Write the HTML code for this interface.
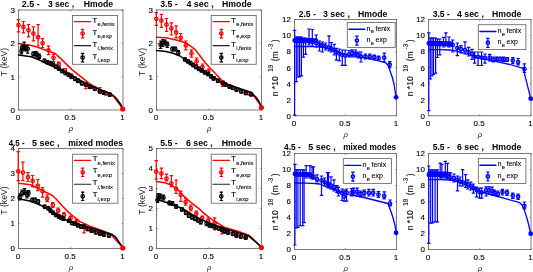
<!DOCTYPE html>
<html><head><meta charset="utf-8"><style>
html,body{margin:0;padding:0;background:#fff;}
svg{display:block;will-change:transform;}
text{font-family:"Liberation Sans", sans-serif;}
</style></head><body>
<svg xmlns="http://www.w3.org/2000/svg" width="533" height="272" viewBox="0 0 533 272">
<rect width="533" height="272" fill="#fff"/>
<rect x="18.5" y="10" width="104.5" height="100" fill="none" stroke="#666" stroke-width="0.85"/>
<line x1="18.5" y1="110" x2="19.7" y2="110" stroke="#666" stroke-width="0.85"/>
<line x1="123" y1="110" x2="121.8" y2="110" stroke="#666" stroke-width="0.85"/>
<text x="14.9" y="112.9" font-size="8" text-anchor="end" font-weight="normal" font-style="normal" fill="#000" stroke="#000" stroke-width="0.12">0</text>
<line x1="18.5" y1="76.67" x2="19.7" y2="76.67" stroke="#666" stroke-width="0.85"/>
<line x1="123" y1="76.67" x2="121.8" y2="76.67" stroke="#666" stroke-width="0.85"/>
<text x="14.9" y="79.57" font-size="8" text-anchor="end" font-weight="normal" font-style="normal" fill="#000" stroke="#000" stroke-width="0.12">1</text>
<line x1="18.5" y1="43.33" x2="19.7" y2="43.33" stroke="#666" stroke-width="0.85"/>
<line x1="123" y1="43.33" x2="121.8" y2="43.33" stroke="#666" stroke-width="0.85"/>
<text x="14.9" y="46.23" font-size="8" text-anchor="end" font-weight="normal" font-style="normal" fill="#000" stroke="#000" stroke-width="0.12">2</text>
<line x1="18.5" y1="10" x2="19.7" y2="10" stroke="#666" stroke-width="0.85"/>
<line x1="123" y1="10" x2="121.8" y2="10" stroke="#666" stroke-width="0.85"/>
<text x="14.9" y="12.9" font-size="8" text-anchor="end" font-weight="normal" font-style="normal" fill="#000" stroke="#000" stroke-width="0.12">3</text>
<line x1="18.5" y1="110" x2="18.5" y2="108.8" stroke="#666" stroke-width="0.85"/>
<line x1="18.5" y1="10" x2="18.5" y2="11.2" stroke="#666" stroke-width="0.85"/>
<text x="17.9" y="120.4" font-size="8" text-anchor="middle" font-weight="normal" font-style="normal" fill="#000" stroke="#000" stroke-width="0.12">0</text>
<line x1="70.75" y1="110" x2="70.75" y2="108.8" stroke="#666" stroke-width="0.85"/>
<line x1="70.75" y1="10" x2="70.75" y2="11.2" stroke="#666" stroke-width="0.85"/>
<text x="70.15" y="120.4" font-size="8" text-anchor="middle" font-weight="normal" font-style="normal" fill="#000" stroke="#000" stroke-width="0.12">0.5</text>
<line x1="123" y1="110" x2="123" y2="108.8" stroke="#666" stroke-width="0.85"/>
<line x1="123" y1="10" x2="123" y2="11.2" stroke="#666" stroke-width="0.85"/>
<text x="122.4" y="120.4" font-size="8" text-anchor="middle" font-weight="normal" font-style="normal" fill="#000" stroke="#000" stroke-width="0.12">1</text>
<text x="70.95" y="131" font-size="7.8" text-anchor="middle" font-weight="normal" font-style="italic" fill="#222" font-family="Liberation Serif, serif">&#961;</text>
<polyline points="18.5,43.4 28.6,44.9 35.7,46.6 44.5,49.7 50,51.7 55.5,53.7 61,58.9 66.5,64.4 72,69.6 79.9,75.9 89.8,83.8 99.8,89.4 110.7,94.1 114.5,97.5 117.6,101.7 120.5,105.5 122.8,108.8" fill="none" stroke="#f00" stroke-width="1.5" stroke-linejoin="round" stroke-linecap="round"/>
<path d="M18.5 19.6V31.8M16.8 19.6H20.2M16.8 31.8H20.2" stroke="#f00" stroke-width="1.2" fill="none"/>
<path d="M23.4 21.5V32.8M21.7 21.5H25.1M21.7 32.8H25.1" stroke="#f00" stroke-width="1.2" fill="none"/>
<path d="M28.5 24.7V36.8M26.8 24.7H30.2M26.8 36.8H30.2" stroke="#f00" stroke-width="1.2" fill="none"/>
<path d="M33.4 26.9V40.9M31.7 26.9H35.1M31.7 40.9H35.1" stroke="#f00" stroke-width="1.2" fill="none"/>
<path d="M38.1 24.7V46M36.4 24.7H39.8M36.4 46H39.8" stroke="#f00" stroke-width="1.2" fill="none"/>
<path d="M42.6 38.7V47.5M40.9 38.7H44.3M40.9 47.5H44.3" stroke="#f00" stroke-width="1.2" fill="none"/>
<path d="M48.5 46.2V54.7M46.8 46.2H50.2M46.8 54.7H50.2" stroke="#f00" stroke-width="1.2" fill="none"/>
<path d="M53.5 54.5V61.6M51.8 54.5H55.2M51.8 61.6H55.2" stroke="#f00" stroke-width="1.2" fill="none"/>
<path d="M58.8 62.2V66.6M57.1 62.2H60.5M57.1 66.6H60.5" stroke="#f00" stroke-width="1.2" fill="none"/>
<path d="M64.9 68.5V72M63.2 68.5H66.6M63.2 72H66.6" stroke="#f00" stroke-width="1.2" fill="none"/>
<path d="M70.9 73.8V78M69.2 73.8H72.6M69.2 78H72.6" stroke="#f00" stroke-width="1.2" fill="none"/>
<path d="M77.9 79V82.5M76.2 79H79.6M76.2 82.5H79.6" stroke="#f00" stroke-width="1.2" fill="none"/>
<path d="M85.9 83V88.6M84.2 83H87.6M84.2 88.6H87.6" stroke="#f00" stroke-width="1.2" fill="none"/>
<path d="M91 85.5V88.5M89.3 85.5H92.7M89.3 88.5H92.7" stroke="#f00" stroke-width="1.2" fill="none"/>
<path d="M99.8 87.6V93M98.1 87.6H101.5M98.1 93H101.5" stroke="#f00" stroke-width="1.2" fill="none"/>
<path d="M106 92V95M104.3 92H107.7M104.3 95H107.7" stroke="#f00" stroke-width="1.2" fill="none"/>
<circle cx="18.5" cy="25.1" r="1.7" fill="none" stroke="#f00" stroke-width="1.3"/>
<circle cx="23.4" cy="26.9" r="1.7" fill="none" stroke="#f00" stroke-width="1.3"/>
<circle cx="28.5" cy="30.3" r="1.7" fill="none" stroke="#f00" stroke-width="1.3"/>
<circle cx="33.4" cy="33.5" r="1.7" fill="none" stroke="#f00" stroke-width="1.3"/>
<circle cx="38.1" cy="37.2" r="1.7" fill="none" stroke="#f00" stroke-width="1.3"/>
<circle cx="42.6" cy="43.1" r="1.7" fill="none" stroke="#f00" stroke-width="1.3"/>
<circle cx="48.5" cy="50.3" r="1.7" fill="none" stroke="#f00" stroke-width="1.3"/>
<circle cx="53.5" cy="57.8" r="1.7" fill="none" stroke="#f00" stroke-width="1.3"/>
<circle cx="58.8" cy="64.2" r="1.7" fill="none" stroke="#f00" stroke-width="1.3"/>
<circle cx="64.9" cy="70" r="1.7" fill="none" stroke="#f00" stroke-width="1.3"/>
<circle cx="70.9" cy="75.6" r="1.7" fill="none" stroke="#f00" stroke-width="1.3"/>
<circle cx="77.9" cy="80.8" r="1.7" fill="none" stroke="#f00" stroke-width="1.3"/>
<circle cx="85.9" cy="84.8" r="1.7" fill="none" stroke="#f00" stroke-width="1.3"/>
<circle cx="91" cy="87" r="1.7" fill="none" stroke="#f00" stroke-width="1.3"/>
<circle cx="99.8" cy="91.2" r="1.7" fill="none" stroke="#f00" stroke-width="1.3"/>
<circle cx="106" cy="93.5" r="1.7" fill="none" stroke="#f00" stroke-width="1.3"/>
<polyline points="18.5,55 31.2,56.8 40.1,60.3 46,63.4 50,65 60,69.5 70,74.9 80,80.2 89.8,85.4 100,89.6 110.7,93.7 114.5,96.5 118,100.5 121,105 122.8,108.8" fill="none" stroke="#000" stroke-width="1.5" stroke-linejoin="round" stroke-linecap="round"/>
<path d="M21.4 48V53.9M19.7 48H23.1M19.7 53.9H23.1" stroke="#000" stroke-width="1.2" fill="none"/>
<path d="M22.2 45V50M20.5 45H23.9M20.5 50H23.9" stroke="#000" stroke-width="1.2" fill="none"/>
<path d="M24.2 42.2V49M22.5 42.2H25.9M22.5 49H25.9" stroke="#000" stroke-width="1.2" fill="none"/>
<path d="M25.7 46V51M24 46H27.4M24 51H27.4" stroke="#000" stroke-width="1.2" fill="none"/>
<path d="M27.7 45.5V53.2M26 45.5H29.4M26 53.2H29.4" stroke="#000" stroke-width="1.2" fill="none"/>
<path d="M33.4 52V56M31.7 52H35.1M31.7 56H35.1" stroke="#000" stroke-width="1.2" fill="none"/>
<path d="M35.7 51.5V55M34 51.5H37.4M34 55H37.4" stroke="#000" stroke-width="1.2" fill="none"/>
<path d="M37 53V57M35.3 53H38.7M35.3 57H38.7" stroke="#000" stroke-width="1.2" fill="none"/>
<path d="M39.2 54V58.5M37.5 54H40.9M37.5 58.5H40.9" stroke="#000" stroke-width="1.2" fill="none"/>
<path d="M44.5 59.2V62.4M42.8 59.2H46.2M42.8 62.4H46.2" stroke="#000" stroke-width="1.2" fill="none"/>
<path d="M47.5 60.7V63.9M45.8 60.7H49.2M45.8 63.9H49.2" stroke="#000" stroke-width="1.2" fill="none"/>
<path d="M50.6 61.6V64.8M48.9 61.6H52.3M48.9 64.8H52.3" stroke="#000" stroke-width="1.2" fill="none"/>
<path d="M53.3 63.2V66.4M51.6 63.2H55M51.6 66.4H55" stroke="#000" stroke-width="1.2" fill="none"/>
<path d="M56.1 65.2V68.4M54.4 65.2H57.8M54.4 68.4H57.8" stroke="#000" stroke-width="1.2" fill="none"/>
<path d="M58.8 67V70.2M57.1 67H60.5M57.1 70.2H60.5" stroke="#000" stroke-width="1.2" fill="none"/>
<path d="M62.1 69.4V72.6M60.4 69.4H63.8M60.4 72.6H63.8" stroke="#000" stroke-width="1.2" fill="none"/>
<path d="M65.4 71.4V74.6M63.7 71.4H67.1M63.7 74.6H67.1" stroke="#000" stroke-width="1.2" fill="none"/>
<path d="M68.5 73.2V76.4M66.8 73.2H70.2M66.8 76.4H70.2" stroke="#000" stroke-width="1.2" fill="none"/>
<path d="M71.6 75.3V78.5M69.9 75.3H73.3M69.9 78.5H73.3" stroke="#000" stroke-width="1.2" fill="none"/>
<path d="M75 77.2V80.4M73.3 77.2H76.7M73.3 80.4H76.7" stroke="#000" stroke-width="1.2" fill="none"/>
<path d="M77.9 79.2V82.4M76.2 79.2H79.6M76.2 82.4H79.6" stroke="#000" stroke-width="1.2" fill="none"/>
<path d="M81.9 81.8V85M80.2 81.8H83.6M80.2 85H83.6" stroke="#000" stroke-width="1.2" fill="none"/>
<path d="M85.9 83.2V86.4M84.2 83.2H87.6M84.2 86.4H87.6" stroke="#000" stroke-width="1.2" fill="none"/>
<path d="M89.8 85.2V88.4M88.1 85.2H91.5M88.1 88.4H91.5" stroke="#000" stroke-width="1.2" fill="none"/>
<path d="M94.8 87.2V90.4M93.1 87.2H96.5M93.1 90.4H96.5" stroke="#000" stroke-width="1.2" fill="none"/>
<path d="M99.8 89.6V92.8M98.1 89.6H101.5M98.1 92.8H101.5" stroke="#000" stroke-width="1.2" fill="none"/>
<path d="M103.7 91.1V94.3M102 91.1H105.4M102 94.3H105.4" stroke="#000" stroke-width="1.2" fill="none"/>
<path d="M109.7 93.1V96.3M108 93.1H111.4M108 96.3H111.4" stroke="#000" stroke-width="1.2" fill="none"/>
<circle cx="21.4" cy="51" r="1.7" fill="none" stroke="#000" stroke-width="1.3"/>
<circle cx="22.2" cy="47.6" r="1.7" fill="none" stroke="#000" stroke-width="1.3"/>
<circle cx="24.2" cy="46.6" r="1.7" fill="none" stroke="#000" stroke-width="1.3"/>
<circle cx="25.7" cy="48.8" r="1.7" fill="none" stroke="#000" stroke-width="1.3"/>
<circle cx="27.7" cy="48.8" r="1.7" fill="none" stroke="#000" stroke-width="1.3"/>
<circle cx="33.4" cy="53.9" r="1.7" fill="none" stroke="#000" stroke-width="1.3"/>
<circle cx="35.7" cy="53.2" r="1.7" fill="none" stroke="#000" stroke-width="1.3"/>
<circle cx="37" cy="55" r="1.7" fill="none" stroke="#000" stroke-width="1.3"/>
<circle cx="39.2" cy="56.3" r="1.7" fill="none" stroke="#000" stroke-width="1.3"/>
<circle cx="44.5" cy="60.8" r="1.7" fill="none" stroke="#000" stroke-width="1.3"/>
<circle cx="47.5" cy="62.3" r="1.7" fill="none" stroke="#000" stroke-width="1.3"/>
<circle cx="50.6" cy="63.2" r="1.7" fill="none" stroke="#000" stroke-width="1.3"/>
<circle cx="53.3" cy="64.8" r="1.7" fill="none" stroke="#000" stroke-width="1.3"/>
<circle cx="56.1" cy="66.8" r="1.7" fill="none" stroke="#000" stroke-width="1.3"/>
<circle cx="58.8" cy="68.6" r="1.7" fill="none" stroke="#000" stroke-width="1.3"/>
<circle cx="62.1" cy="71" r="1.7" fill="none" stroke="#000" stroke-width="1.3"/>
<circle cx="65.4" cy="73" r="1.7" fill="none" stroke="#000" stroke-width="1.3"/>
<circle cx="68.5" cy="74.8" r="1.7" fill="none" stroke="#000" stroke-width="1.3"/>
<circle cx="71.6" cy="76.9" r="1.7" fill="none" stroke="#000" stroke-width="1.3"/>
<circle cx="75" cy="78.8" r="1.7" fill="none" stroke="#000" stroke-width="1.3"/>
<circle cx="77.9" cy="80.8" r="1.7" fill="none" stroke="#000" stroke-width="1.3"/>
<circle cx="81.9" cy="83.4" r="1.7" fill="none" stroke="#000" stroke-width="1.3"/>
<circle cx="85.9" cy="84.8" r="1.7" fill="none" stroke="#000" stroke-width="1.3"/>
<circle cx="89.8" cy="86.8" r="1.7" fill="none" stroke="#000" stroke-width="1.3"/>
<circle cx="94.8" cy="88.8" r="1.7" fill="none" stroke="#000" stroke-width="1.3"/>
<circle cx="99.8" cy="91.2" r="1.7" fill="none" stroke="#000" stroke-width="1.3"/>
<circle cx="103.7" cy="92.7" r="1.7" fill="none" stroke="#000" stroke-width="1.3"/>
<circle cx="109.7" cy="94.7" r="1.7" fill="none" stroke="#000" stroke-width="1.3"/>
<circle cx="122.7" cy="109.1" r="2.6" fill="#f00"/>
<rect x="72.5" y="15.5" width="45" height="48.8" fill="#fff" stroke="#666" stroke-width="0.85"/>
<polyline points="74.3,21.6 90.7,21.6" fill="none" stroke="#f00" stroke-width="1.2" stroke-linejoin="round" stroke-linecap="round"/>
<path d="M82.6 29.4V37.8M80.9 29.4H84.3M80.9 37.8H84.3" stroke="#f00" stroke-width="1.2" fill="none"/>
<circle cx="82.6" cy="33.6" r="1.7" fill="none" stroke="#f00" stroke-width="1.3"/>
<polyline points="74.3,45.6 90.7,45.6" fill="none" stroke="#222" stroke-width="1.1" stroke-linejoin="round" stroke-linecap="round"/>
<path d="M82.6 53.4V61.8M80.9 53.4H84.3M80.9 61.8H84.3" stroke="#000" stroke-width="1.2" fill="none"/>
<circle cx="82.6" cy="57.6" r="1.7" fill="none" stroke="#000" stroke-width="1.3"/>
<text x="92.6" y="22.7" font-size="7.6" fill="#000" stroke="#000" stroke-width="0.15">T<tspan font-size="5.9" dy="3.5" dx="0.2" stroke-width="0.1">e,fenix</tspan></text>
<text x="92.6" y="34.7" font-size="7.6" fill="#000" stroke="#000" stroke-width="0.15">T<tspan font-size="5.9" dy="3.5" dx="0.2" stroke-width="0.1">e,exp</tspan></text>
<text x="92.6" y="46.7" font-size="7.6" fill="#000" stroke="#000" stroke-width="0.15">T<tspan font-size="5.9" dy="3.5" dx="0.2" stroke-width="0.1">i,fenix</tspan></text>
<text x="92.6" y="58.7" font-size="7.6" fill="#000" stroke="#000" stroke-width="0.15">T<tspan font-size="5.9" dy="3.5" dx="0.2" stroke-width="0.1">i,exp</tspan></text>
<rect x="156.5" y="10" width="105" height="100" fill="none" stroke="#666" stroke-width="0.85"/>
<line x1="156.5" y1="110" x2="157.7" y2="110" stroke="#666" stroke-width="0.85"/>
<line x1="261.5" y1="110" x2="260.3" y2="110" stroke="#666" stroke-width="0.85"/>
<text x="152.9" y="112.9" font-size="8" text-anchor="end" font-weight="normal" font-style="normal" fill="#000" stroke="#000" stroke-width="0.12">0</text>
<line x1="156.5" y1="76.67" x2="157.7" y2="76.67" stroke="#666" stroke-width="0.85"/>
<line x1="261.5" y1="76.67" x2="260.3" y2="76.67" stroke="#666" stroke-width="0.85"/>
<text x="152.9" y="79.57" font-size="8" text-anchor="end" font-weight="normal" font-style="normal" fill="#000" stroke="#000" stroke-width="0.12">1</text>
<line x1="156.5" y1="43.33" x2="157.7" y2="43.33" stroke="#666" stroke-width="0.85"/>
<line x1="261.5" y1="43.33" x2="260.3" y2="43.33" stroke="#666" stroke-width="0.85"/>
<text x="152.9" y="46.23" font-size="8" text-anchor="end" font-weight="normal" font-style="normal" fill="#000" stroke="#000" stroke-width="0.12">2</text>
<line x1="156.5" y1="10" x2="157.7" y2="10" stroke="#666" stroke-width="0.85"/>
<line x1="261.5" y1="10" x2="260.3" y2="10" stroke="#666" stroke-width="0.85"/>
<text x="152.9" y="12.9" font-size="8" text-anchor="end" font-weight="normal" font-style="normal" fill="#000" stroke="#000" stroke-width="0.12">3</text>
<line x1="156.5" y1="110" x2="156.5" y2="108.8" stroke="#666" stroke-width="0.85"/>
<line x1="156.5" y1="10" x2="156.5" y2="11.2" stroke="#666" stroke-width="0.85"/>
<text x="155.9" y="120.4" font-size="8" text-anchor="middle" font-weight="normal" font-style="normal" fill="#000" stroke="#000" stroke-width="0.12">0</text>
<line x1="209" y1="110" x2="209" y2="108.8" stroke="#666" stroke-width="0.85"/>
<line x1="209" y1="10" x2="209" y2="11.2" stroke="#666" stroke-width="0.85"/>
<text x="208.4" y="120.4" font-size="8" text-anchor="middle" font-weight="normal" font-style="normal" fill="#000" stroke="#000" stroke-width="0.12">0.5</text>
<line x1="261.5" y1="110" x2="261.5" y2="108.8" stroke="#666" stroke-width="0.85"/>
<line x1="261.5" y1="10" x2="261.5" y2="11.2" stroke="#666" stroke-width="0.85"/>
<text x="260.9" y="120.4" font-size="8" text-anchor="middle" font-weight="normal" font-style="normal" fill="#000" stroke="#000" stroke-width="0.12">1</text>
<text x="209.2" y="131" font-size="7.8" text-anchor="middle" font-weight="normal" font-style="italic" fill="#222" font-family="Liberation Serif, serif">&#961;</text>
<polyline points="156.5,37.3 166,37.8 174,39.6 180,41 186,43 190,45.6 194.4,48.8 199,54.5 204.7,62 209.5,67.5 213.5,71.5 217.3,75.5 222,80.5 228,84.7 238.9,88.5 251.2,93.1 255.8,98.5 259,103 261.4,107.6" fill="none" stroke="#f00" stroke-width="1.5" stroke-linejoin="round" stroke-linecap="round"/>
<path d="M156.3 12.6V25.4M154.6 12.6H158M154.6 25.4H158" stroke="#f00" stroke-width="1.2" fill="none"/>
<path d="M161.4 14.4V27.4M159.7 14.4H163.1M159.7 27.4H163.1" stroke="#f00" stroke-width="1.2" fill="none"/>
<path d="M166.5 18.5V31.3M164.8 18.5H168.2M164.8 31.3H168.2" stroke="#f00" stroke-width="1.2" fill="none"/>
<path d="M171.4 22.9V35M169.7 22.9H173.1M169.7 35H173.1" stroke="#f00" stroke-width="1.2" fill="none"/>
<path d="M176.1 25.9V37.9M174.4 25.9H177.8M174.4 37.9H177.8" stroke="#f00" stroke-width="1.2" fill="none"/>
<path d="M180.7 33.5V41M179 33.5H182.4M179 41H182.4" stroke="#f00" stroke-width="1.2" fill="none"/>
<path d="M185.8 41V49.9M184.1 41H187.5M184.1 49.9H187.5" stroke="#f00" stroke-width="1.2" fill="none"/>
<path d="M191.5 49.9V57.2M189.8 49.9H193.2M189.8 57.2H193.2" stroke="#f00" stroke-width="1.2" fill="none"/>
<path d="M196.6 58V64.5M194.9 58H198.3M194.9 64.5H198.3" stroke="#f00" stroke-width="1.2" fill="none"/>
<path d="M202.5 64V70M200.8 64H204.2M200.8 70H204.2" stroke="#f00" stroke-width="1.2" fill="none"/>
<path d="M208.4 69V74M206.7 69H210.1M206.7 74H210.1" stroke="#f00" stroke-width="1.2" fill="none"/>
<path d="M213.6 76.5V80M211.9 76.5H215.3M211.9 80H215.3" stroke="#f00" stroke-width="1.2" fill="none"/>
<path d="M222.7 80.5V86.4M221 80.5H224.4M221 86.4H224.4" stroke="#f00" stroke-width="1.2" fill="none"/>
<path d="M229.6 85V88.5M227.9 85H231.3M227.9 88.5H231.3" stroke="#f00" stroke-width="1.2" fill="none"/>
<path d="M236.5 88V91M234.8 88H238.2M234.8 91H238.2" stroke="#f00" stroke-width="1.2" fill="none"/>
<path d="M245.8 91V94.5M244.1 91H247.5M244.1 94.5H247.5" stroke="#f00" stroke-width="1.2" fill="none"/>
<path d="M249.5 92V95M247.8 92H251.2M247.8 95H251.2" stroke="#f00" stroke-width="1.2" fill="none"/>
<circle cx="156.3" cy="18.8" r="1.7" fill="none" stroke="#f00" stroke-width="1.3"/>
<circle cx="161.4" cy="20.6" r="1.7" fill="none" stroke="#f00" stroke-width="1.3"/>
<circle cx="166.5" cy="24.7" r="1.7" fill="none" stroke="#f00" stroke-width="1.3"/>
<circle cx="171.4" cy="28.4" r="1.7" fill="none" stroke="#f00" stroke-width="1.3"/>
<circle cx="176.1" cy="32.4" r="1.7" fill="none" stroke="#f00" stroke-width="1.3"/>
<circle cx="180.7" cy="37.8" r="1.7" fill="none" stroke="#f00" stroke-width="1.3"/>
<circle cx="185.8" cy="45.4" r="1.7" fill="none" stroke="#f00" stroke-width="1.3"/>
<circle cx="191.5" cy="53.4" r="1.7" fill="none" stroke="#f00" stroke-width="1.3"/>
<circle cx="196.6" cy="61.3" r="1.7" fill="none" stroke="#f00" stroke-width="1.3"/>
<circle cx="202.5" cy="67.2" r="1.7" fill="none" stroke="#f00" stroke-width="1.3"/>
<circle cx="208.4" cy="71.6" r="1.7" fill="none" stroke="#f00" stroke-width="1.3"/>
<circle cx="213.6" cy="78.3" r="1.7" fill="none" stroke="#f00" stroke-width="1.3"/>
<circle cx="222.7" cy="83.1" r="1.7" fill="none" stroke="#f00" stroke-width="1.3"/>
<circle cx="229.6" cy="86.7" r="1.7" fill="none" stroke="#f00" stroke-width="1.3"/>
<circle cx="236.5" cy="89.6" r="1.7" fill="none" stroke="#f00" stroke-width="1.3"/>
<circle cx="245.8" cy="93" r="1.7" fill="none" stroke="#f00" stroke-width="1.3"/>
<circle cx="249.5" cy="93.5" r="1.7" fill="none" stroke="#f00" stroke-width="1.3"/>
<polyline points="156.5,50.6 166,51.5 174,53.5 180,56 186,60 190,64 195,67.5 200,70 208,73.9 215,78 223.4,83.1 238.9,88.2 251.2,92.4 255.8,97 259,101.5 261.4,106.8" fill="none" stroke="#000" stroke-width="1.5" stroke-linejoin="round" stroke-linecap="round"/>
<path d="M160.6 41V48.4M158.9 41H162.3M158.9 48.4H162.3" stroke="#000" stroke-width="1.2" fill="none"/>
<path d="M162.8 39.6V46.5M161.1 39.6H164.5M161.1 46.5H164.5" stroke="#000" stroke-width="1.2" fill="none"/>
<path d="M165 40V45M163.3 40H166.7M163.3 45H166.7" stroke="#000" stroke-width="1.2" fill="none"/>
<path d="M167.2 42V47.5M165.5 42H168.9M165.5 47.5H168.9" stroke="#000" stroke-width="1.2" fill="none"/>
<path d="M172.4 47V51M170.7 47H174.1M170.7 51H174.1" stroke="#000" stroke-width="1.2" fill="none"/>
<path d="M175.3 47V51M173.6 47H177M173.6 51H177" stroke="#000" stroke-width="1.2" fill="none"/>
<path d="M178.3 50.5V55M176.6 50.5H180M176.6 55H180" stroke="#000" stroke-width="1.2" fill="none"/>
<path d="M184.9 57.8V61M183.2 57.8H186.6M183.2 61H186.6" stroke="#000" stroke-width="1.2" fill="none"/>
<path d="M187.8 59.6V62.8M186.1 59.6H189.5M186.1 62.8H189.5" stroke="#000" stroke-width="1.2" fill="none"/>
<path d="M190.5 61.4V64.6M188.8 61.4H192.2M188.8 64.6H192.2" stroke="#000" stroke-width="1.2" fill="none"/>
<path d="M193.2 63.4V66.6M191.5 63.4H194.9M191.5 66.6H194.9" stroke="#000" stroke-width="1.2" fill="none"/>
<path d="M196 65.4V68.6M194.3 65.4H197.7M194.3 68.6H197.7" stroke="#000" stroke-width="1.2" fill="none"/>
<path d="M198.8 67.2V70.4M197.1 67.2H200.5M197.1 70.4H200.5" stroke="#000" stroke-width="1.2" fill="none"/>
<path d="M201.5 68.8V72M199.8 68.8H203.2M199.8 72H203.2" stroke="#000" stroke-width="1.2" fill="none"/>
<path d="M204.7 70.8V74M203 70.8H206.4M203 74H206.4" stroke="#000" stroke-width="1.2" fill="none"/>
<path d="M208 72.4V75.6M206.3 72.4H209.7M206.3 75.6H209.7" stroke="#000" stroke-width="1.2" fill="none"/>
<path d="M211 74.7V77.9M209.3 74.7H212.7M209.3 77.9H212.7" stroke="#000" stroke-width="1.2" fill="none"/>
<path d="M213.6 76.7V79.9M211.9 76.7H215.3M211.9 79.9H215.3" stroke="#000" stroke-width="1.2" fill="none"/>
<path d="M218 79.2V82.4M216.3 79.2H219.7M216.3 82.4H219.7" stroke="#000" stroke-width="1.2" fill="none"/>
<path d="M222.7 81.5V84.7M221 81.5H224.4M221 84.7H224.4" stroke="#000" stroke-width="1.2" fill="none"/>
<path d="M225.5 83.1V86.3M223.8 83.1H227.2M223.8 86.3H227.2" stroke="#000" stroke-width="1.2" fill="none"/>
<path d="M229.6 85.1V88.3M227.9 85.1H231.3M227.9 88.3H231.3" stroke="#000" stroke-width="1.2" fill="none"/>
<path d="M232.7 86.3V89.5M231 86.3H234.4M231 89.5H234.4" stroke="#000" stroke-width="1.2" fill="none"/>
<path d="M236.5 88V91.2M234.8 88H238.2M234.8 91.2H238.2" stroke="#000" stroke-width="1.2" fill="none"/>
<path d="M241.2 89.8V93M239.5 89.8H242.9M239.5 93H242.9" stroke="#000" stroke-width="1.2" fill="none"/>
<path d="M245.8 91.4V94.6M244.1 91.4H247.5M244.1 94.6H247.5" stroke="#000" stroke-width="1.2" fill="none"/>
<path d="M251.2 92.8V96M249.5 92.8H252.9M249.5 96H252.9" stroke="#000" stroke-width="1.2" fill="none"/>
<circle cx="160.6" cy="44.7" r="1.7" fill="none" stroke="#000" stroke-width="1.3"/>
<circle cx="162.8" cy="43.2" r="1.7" fill="none" stroke="#000" stroke-width="1.3"/>
<circle cx="165" cy="42.5" r="1.7" fill="none" stroke="#000" stroke-width="1.3"/>
<circle cx="167.2" cy="44.4" r="1.7" fill="none" stroke="#000" stroke-width="1.3"/>
<circle cx="172.4" cy="49.1" r="1.7" fill="none" stroke="#000" stroke-width="1.3"/>
<circle cx="175.3" cy="49.1" r="1.7" fill="none" stroke="#000" stroke-width="1.3"/>
<circle cx="178.3" cy="52.8" r="1.7" fill="none" stroke="#000" stroke-width="1.3"/>
<circle cx="184.9" cy="59.4" r="1.7" fill="none" stroke="#000" stroke-width="1.3"/>
<circle cx="187.8" cy="61.2" r="1.7" fill="none" stroke="#000" stroke-width="1.3"/>
<circle cx="190.5" cy="63" r="1.7" fill="none" stroke="#000" stroke-width="1.3"/>
<circle cx="193.2" cy="65" r="1.7" fill="none" stroke="#000" stroke-width="1.3"/>
<circle cx="196" cy="67" r="1.7" fill="none" stroke="#000" stroke-width="1.3"/>
<circle cx="198.8" cy="68.8" r="1.7" fill="none" stroke="#000" stroke-width="1.3"/>
<circle cx="201.5" cy="70.4" r="1.7" fill="none" stroke="#000" stroke-width="1.3"/>
<circle cx="204.7" cy="72.4" r="1.7" fill="none" stroke="#000" stroke-width="1.3"/>
<circle cx="208" cy="74" r="1.7" fill="none" stroke="#000" stroke-width="1.3"/>
<circle cx="211" cy="76.3" r="1.7" fill="none" stroke="#000" stroke-width="1.3"/>
<circle cx="213.6" cy="78.3" r="1.7" fill="none" stroke="#000" stroke-width="1.3"/>
<circle cx="218" cy="80.8" r="1.7" fill="none" stroke="#000" stroke-width="1.3"/>
<circle cx="222.7" cy="83.1" r="1.7" fill="none" stroke="#000" stroke-width="1.3"/>
<circle cx="225.5" cy="84.7" r="1.7" fill="none" stroke="#000" stroke-width="1.3"/>
<circle cx="229.6" cy="86.7" r="1.7" fill="none" stroke="#000" stroke-width="1.3"/>
<circle cx="232.7" cy="87.9" r="1.7" fill="none" stroke="#000" stroke-width="1.3"/>
<circle cx="236.5" cy="89.6" r="1.7" fill="none" stroke="#000" stroke-width="1.3"/>
<circle cx="241.2" cy="91.4" r="1.7" fill="none" stroke="#000" stroke-width="1.3"/>
<circle cx="245.8" cy="93" r="1.7" fill="none" stroke="#000" stroke-width="1.3"/>
<circle cx="251.2" cy="94.4" r="1.7" fill="none" stroke="#000" stroke-width="1.3"/>
<circle cx="261.4" cy="107.6" r="2.6" fill="#f00"/>
<rect x="211.2" y="15.5" width="45" height="48.8" fill="#fff" stroke="#666" stroke-width="0.85"/>
<polyline points="213,21.6 229.4,21.6" fill="none" stroke="#f00" stroke-width="1.2" stroke-linejoin="round" stroke-linecap="round"/>
<path d="M221.3 29.4V37.8M219.6 29.4H223M219.6 37.8H223" stroke="#f00" stroke-width="1.2" fill="none"/>
<circle cx="221.3" cy="33.6" r="1.7" fill="none" stroke="#f00" stroke-width="1.3"/>
<polyline points="213,45.6 229.4,45.6" fill="none" stroke="#222" stroke-width="1.1" stroke-linejoin="round" stroke-linecap="round"/>
<path d="M221.3 53.4V61.8M219.6 53.4H223M219.6 61.8H223" stroke="#000" stroke-width="1.2" fill="none"/>
<circle cx="221.3" cy="57.6" r="1.7" fill="none" stroke="#000" stroke-width="1.3"/>
<text x="231.3" y="22.7" font-size="7.6" fill="#000" stroke="#000" stroke-width="0.15">T<tspan font-size="5.9" dy="3.5" dx="0.2" stroke-width="0.1">e,fenix</tspan></text>
<text x="231.3" y="34.7" font-size="7.6" fill="#000" stroke="#000" stroke-width="0.15">T<tspan font-size="5.9" dy="3.5" dx="0.2" stroke-width="0.1">e,exp</tspan></text>
<text x="231.3" y="46.7" font-size="7.6" fill="#000" stroke="#000" stroke-width="0.15">T<tspan font-size="5.9" dy="3.5" dx="0.2" stroke-width="0.1">i,fenix</tspan></text>
<text x="231.3" y="58.7" font-size="7.6" fill="#000" stroke="#000" stroke-width="0.15">T<tspan font-size="5.9" dy="3.5" dx="0.2" stroke-width="0.1">i,exp</tspan></text>
<rect x="294.5" y="19.5" width="102" height="96.25" fill="none" stroke="#666" stroke-width="0.85"/>
<line x1="294.5" y1="115.75" x2="295.7" y2="115.75" stroke="#666" stroke-width="0.85"/>
<line x1="396.5" y1="115.75" x2="395.3" y2="115.75" stroke="#666" stroke-width="0.85"/>
<text x="290.9" y="118.65" font-size="8" text-anchor="end" font-weight="normal" font-style="normal" fill="#000" stroke="#000" stroke-width="0.12">0</text>
<line x1="294.5" y1="99.71" x2="295.7" y2="99.71" stroke="#666" stroke-width="0.85"/>
<line x1="396.5" y1="99.71" x2="395.3" y2="99.71" stroke="#666" stroke-width="0.85"/>
<text x="290.9" y="102.61" font-size="8" text-anchor="end" font-weight="normal" font-style="normal" fill="#000" stroke="#000" stroke-width="0.12">2</text>
<line x1="294.5" y1="83.67" x2="295.7" y2="83.67" stroke="#666" stroke-width="0.85"/>
<line x1="396.5" y1="83.67" x2="395.3" y2="83.67" stroke="#666" stroke-width="0.85"/>
<text x="290.9" y="86.57" font-size="8" text-anchor="end" font-weight="normal" font-style="normal" fill="#000" stroke="#000" stroke-width="0.12">4</text>
<line x1="294.5" y1="67.62" x2="295.7" y2="67.62" stroke="#666" stroke-width="0.85"/>
<line x1="396.5" y1="67.62" x2="395.3" y2="67.62" stroke="#666" stroke-width="0.85"/>
<text x="290.9" y="70.53" font-size="8" text-anchor="end" font-weight="normal" font-style="normal" fill="#000" stroke="#000" stroke-width="0.12">6</text>
<line x1="294.5" y1="51.58" x2="295.7" y2="51.58" stroke="#666" stroke-width="0.85"/>
<line x1="396.5" y1="51.58" x2="395.3" y2="51.58" stroke="#666" stroke-width="0.85"/>
<text x="290.9" y="54.48" font-size="8" text-anchor="end" font-weight="normal" font-style="normal" fill="#000" stroke="#000" stroke-width="0.12">8</text>
<line x1="294.5" y1="35.54" x2="295.7" y2="35.54" stroke="#666" stroke-width="0.85"/>
<line x1="396.5" y1="35.54" x2="395.3" y2="35.54" stroke="#666" stroke-width="0.85"/>
<text x="290.9" y="38.44" font-size="8" text-anchor="end" font-weight="normal" font-style="normal" fill="#000" stroke="#000" stroke-width="0.12">10</text>
<line x1="294.5" y1="19.5" x2="295.7" y2="19.5" stroke="#666" stroke-width="0.85"/>
<line x1="396.5" y1="19.5" x2="395.3" y2="19.5" stroke="#666" stroke-width="0.85"/>
<text x="290.9" y="22.4" font-size="8" text-anchor="end" font-weight="normal" font-style="normal" fill="#000" stroke="#000" stroke-width="0.12">12</text>
<line x1="294.5" y1="115.75" x2="294.5" y2="114.55" stroke="#666" stroke-width="0.85"/>
<line x1="294.5" y1="19.5" x2="294.5" y2="20.7" stroke="#666" stroke-width="0.85"/>
<text x="293.9" y="126.15" font-size="8" text-anchor="middle" font-weight="normal" font-style="normal" fill="#000" stroke="#000" stroke-width="0.12">0</text>
<line x1="345.5" y1="115.75" x2="345.5" y2="114.55" stroke="#666" stroke-width="0.85"/>
<line x1="345.5" y1="19.5" x2="345.5" y2="20.7" stroke="#666" stroke-width="0.85"/>
<text x="344.9" y="126.15" font-size="8" text-anchor="middle" font-weight="normal" font-style="normal" fill="#000" stroke="#000" stroke-width="0.12">0.5</text>
<line x1="396.5" y1="115.75" x2="396.5" y2="114.55" stroke="#666" stroke-width="0.85"/>
<line x1="396.5" y1="19.5" x2="396.5" y2="20.7" stroke="#666" stroke-width="0.85"/>
<text x="395.9" y="126.15" font-size="8" text-anchor="middle" font-weight="normal" font-style="normal" fill="#000" stroke="#000" stroke-width="0.12">1</text>
<text x="345.7" y="136.75" font-size="7.8" text-anchor="middle" font-weight="normal" font-style="italic" fill="#222" font-family="Liberation Serif, serif">&#961;</text>
<polyline points="294.5,46.5 305,46.5 312,46.6 318,46.8 324,47.5 330,49 336,51.5 342,53.5 348,55.2 357.7,56.6 373.1,59.4 384.2,62.3 386,63 388.5,66 390.5,72.2 392.5,78 394.2,85.1 396.1,97.3" fill="none" stroke="#00f" stroke-width="1.3" stroke-linejoin="round" stroke-linecap="round"/>
<path d="M294.6 30.4V115.2M292.9 30.4H296.3M292.9 115.2H296.3" stroke="#00f" stroke-width="1.2" fill="none"/>
<path d="M296.3 37V81.6M294.6 37H298M294.6 81.6H298" stroke="#00f" stroke-width="1.2" fill="none"/>
<path d="M297.9 37V77M296.2 37H299.6M296.2 77H299.6" stroke="#00f" stroke-width="1.2" fill="none"/>
<path d="M299.6 37V77M297.9 37H301.3M297.9 77H301.3" stroke="#00f" stroke-width="1.2" fill="none"/>
<path d="M301.4 37V75.8M299.7 37H303.1M299.7 75.8H303.1" stroke="#00f" stroke-width="1.2" fill="none"/>
<path d="M303.4 38V57.2M301.7 38H305.1M301.7 57.2H305.1" stroke="#00f" stroke-width="1.2" fill="none"/>
<path d="M305.6 38V54.4M303.9 38H307.3M303.9 54.4H307.3" stroke="#00f" stroke-width="1.2" fill="none"/>
<path d="M309 29V45M307.3 29H310.7M307.3 45H310.7" stroke="#00f" stroke-width="1.2" fill="none"/>
<path d="M312.3 29.5V46M310.6 29.5H314M310.6 46H314" stroke="#00f" stroke-width="1.2" fill="none"/>
<path d="M316.2 35V47M314.5 35H317.9M314.5 47H317.9" stroke="#00f" stroke-width="1.2" fill="none"/>
<path d="M319.5 41V51M317.8 41H321.2M317.8 51H321.2" stroke="#00f" stroke-width="1.2" fill="none"/>
<path d="M322.4 42V52M320.7 42H324.1M320.7 52H324.1" stroke="#00f" stroke-width="1.2" fill="none"/>
<path d="M325.5 43V50M323.8 43H327.2M323.8 50H327.2" stroke="#00f" stroke-width="1.2" fill="none"/>
<path d="M329 35.9V51M327.3 35.9H330.7M327.3 51H330.7" stroke="#00f" stroke-width="1.2" fill="none"/>
<path d="M331.2 42.5V52M329.5 42.5H332.9M329.5 52H332.9" stroke="#00f" stroke-width="1.2" fill="none"/>
<path d="M334.2 44.4V55M332.5 44.4H335.9M332.5 55H335.9" stroke="#00f" stroke-width="1.2" fill="none"/>
<path d="M336.4 48.4V60.1M334.7 48.4H338.1M334.7 60.1H338.1" stroke="#00f" stroke-width="1.2" fill="none"/>
<path d="M339.3 49V60.9M337.6 49H341M337.6 60.9H341" stroke="#00f" stroke-width="1.2" fill="none"/>
<path d="M342.3 50V65.3M340.6 50H344M340.6 65.3H344" stroke="#00f" stroke-width="1.2" fill="none"/>
<path d="M345.2 50V65.3M343.5 50H346.9M343.5 65.3H346.9" stroke="#00f" stroke-width="1.2" fill="none"/>
<path d="M349 50.5V57M347.3 50.5H350.7M347.3 57H350.7" stroke="#00f" stroke-width="1.2" fill="none"/>
<path d="M352.1 49.9V57M350.4 49.9H353.8M350.4 57H353.8" stroke="#00f" stroke-width="1.2" fill="none"/>
<path d="M355.5 50V57M353.8 50H357.2M353.8 57H357.2" stroke="#00f" stroke-width="1.2" fill="none"/>
<path d="M358.2 52V58M356.5 52H359.9M356.5 58H359.9" stroke="#00f" stroke-width="1.2" fill="none"/>
<path d="M361 52V62M359.3 52H362.7M359.3 62H362.7" stroke="#00f" stroke-width="1.2" fill="none"/>
<path d="M365.4 54V59M363.7 54H367.1M363.7 59H367.1" stroke="#00f" stroke-width="1.2" fill="none"/>
<path d="M369.8 54V59M368.1 54H371.5M368.1 59H371.5" stroke="#00f" stroke-width="1.2" fill="none"/>
<path d="M374.2 55V60M372.5 55H375.9M372.5 60H375.9" stroke="#00f" stroke-width="1.2" fill="none"/>
<path d="M378.6 56V60M376.9 56H380.3M376.9 60H380.3" stroke="#00f" stroke-width="1.2" fill="none"/>
<path d="M384.2 53.2V62M382.5 53.2H385.9M382.5 62H385.9" stroke="#00f" stroke-width="1.2" fill="none"/>
<path d="M389.7 61.6V67.6M388 61.6H391.4M388 67.6H391.4" stroke="#00f" stroke-width="1.2" fill="none"/>
<circle cx="294.6" cy="40.5" r="1.7" fill="none" stroke="#00f" stroke-width="1.3"/>
<circle cx="296.3" cy="40.8" r="1.7" fill="none" stroke="#00f" stroke-width="1.3"/>
<circle cx="297.9" cy="41" r="1.7" fill="none" stroke="#00f" stroke-width="1.3"/>
<circle cx="299.6" cy="41" r="1.7" fill="none" stroke="#00f" stroke-width="1.3"/>
<circle cx="301.4" cy="41" r="1.7" fill="none" stroke="#00f" stroke-width="1.3"/>
<circle cx="303.4" cy="41.2" r="1.7" fill="none" stroke="#00f" stroke-width="1.3"/>
<circle cx="305.6" cy="41.2" r="1.7" fill="none" stroke="#00f" stroke-width="1.3"/>
<circle cx="309" cy="41.5" r="1.7" fill="none" stroke="#00f" stroke-width="1.3"/>
<circle cx="312.3" cy="42" r="1.7" fill="none" stroke="#00f" stroke-width="1.3"/>
<circle cx="316.2" cy="43" r="1.7" fill="none" stroke="#00f" stroke-width="1.3"/>
<circle cx="319.5" cy="44.5" r="1.7" fill="none" stroke="#00f" stroke-width="1.3"/>
<circle cx="322.4" cy="45.5" r="1.7" fill="none" stroke="#00f" stroke-width="1.3"/>
<circle cx="325.5" cy="46.5" r="1.7" fill="none" stroke="#00f" stroke-width="1.3"/>
<circle cx="329" cy="47.5" r="1.7" fill="none" stroke="#00f" stroke-width="1.3"/>
<circle cx="331.2" cy="48.5" r="1.7" fill="none" stroke="#00f" stroke-width="1.3"/>
<circle cx="334.2" cy="50" r="1.7" fill="none" stroke="#00f" stroke-width="1.3"/>
<circle cx="336.4" cy="52" r="1.7" fill="none" stroke="#00f" stroke-width="1.3"/>
<circle cx="339.3" cy="53.5" r="1.7" fill="none" stroke="#00f" stroke-width="1.3"/>
<circle cx="342.3" cy="55" r="1.7" fill="none" stroke="#00f" stroke-width="1.3"/>
<circle cx="345.2" cy="55.5" r="1.7" fill="none" stroke="#00f" stroke-width="1.3"/>
<circle cx="349" cy="54.5" r="1.7" fill="none" stroke="#00f" stroke-width="1.3"/>
<circle cx="352.1" cy="53.2" r="1.7" fill="none" stroke="#00f" stroke-width="1.3"/>
<circle cx="355.5" cy="53.7" r="1.7" fill="none" stroke="#00f" stroke-width="1.3"/>
<circle cx="358.2" cy="55" r="1.7" fill="none" stroke="#00f" stroke-width="1.3"/>
<circle cx="361" cy="56.6" r="1.7" fill="none" stroke="#00f" stroke-width="1.3"/>
<circle cx="365.4" cy="56.6" r="1.7" fill="none" stroke="#00f" stroke-width="1.3"/>
<circle cx="369.8" cy="56.6" r="1.7" fill="none" stroke="#00f" stroke-width="1.3"/>
<circle cx="374.2" cy="57.2" r="1.7" fill="none" stroke="#00f" stroke-width="1.3"/>
<circle cx="378.6" cy="58.1" r="1.7" fill="none" stroke="#00f" stroke-width="1.3"/>
<circle cx="384.2" cy="57.7" r="1.7" fill="none" stroke="#00f" stroke-width="1.3"/>
<circle cx="389.7" cy="64.7" r="1.7" fill="none" stroke="#00f" stroke-width="1.3"/>
<circle cx="295.5" cy="40" r="1.7" fill="none" stroke="#00f" stroke-width="1.3"/>
<circle cx="297.21" cy="40.05" r="1.7" fill="none" stroke="#00f" stroke-width="1.3"/>
<circle cx="298.92" cy="40.1" r="1.7" fill="none" stroke="#00f" stroke-width="1.3"/>
<circle cx="300.62" cy="40.15" r="1.7" fill="none" stroke="#00f" stroke-width="1.3"/>
<circle cx="302.33" cy="40.2" r="1.7" fill="none" stroke="#00f" stroke-width="1.3"/>
<circle cx="304.04" cy="40.25" r="1.7" fill="none" stroke="#00f" stroke-width="1.3"/>
<circle cx="305.75" cy="40.3" r="1.7" fill="none" stroke="#00f" stroke-width="1.3"/>
<circle cx="307.46" cy="40.35" r="1.7" fill="none" stroke="#00f" stroke-width="1.3"/>
<circle cx="309.17" cy="40.4" r="1.7" fill="none" stroke="#00f" stroke-width="1.3"/>
<circle cx="310.88" cy="40.45" r="1.7" fill="none" stroke="#00f" stroke-width="1.3"/>
<circle cx="312.58" cy="40.5" r="1.7" fill="none" stroke="#00f" stroke-width="1.3"/>
<circle cx="314.29" cy="40.55" r="1.7" fill="none" stroke="#00f" stroke-width="1.3"/>
<circle cx="316" cy="40.6" r="1.7" fill="none" stroke="#00f" stroke-width="1.3"/>
<circle cx="396.1" cy="97.3" r="2.4" fill="#00f"/>
<rect x="347.3" y="22.5" width="47.9" height="24.9" fill="#fff" stroke="#666" stroke-width="0.85"/>
<polyline points="348.9,29.3 364.9,29.3" fill="none" stroke="#00f" stroke-width="1.4" stroke-linejoin="round" stroke-linecap="round"/>
<path d="M356.9 36.1V45.1M355.2 36.1H358.6M355.2 45.1H358.6" stroke="#00f" stroke-width="1.2" fill="none"/>
<circle cx="356.9" cy="40.5" r="1.7" fill="none" stroke="#00f" stroke-width="1.3"/>
<text x="366.6" y="30.5" font-size="7.2" fill="#000" stroke="#000" stroke-width="0.1">n<tspan font-size="5.8" dy="2.9" dx="0.2">e</tspan></text>
<text x="375.5" y="30.5" font-size="7.2" fill="#000" stroke="#000" stroke-width="0.1" textLength="14.6" lengthAdjust="spacingAndGlyphs">fenix</text>
<text x="366.6" y="41.7" font-size="7.2" fill="#000" stroke="#000" stroke-width="0.1">n<tspan font-size="5.8" dy="2.9" dx="0.2">e</tspan></text>
<text x="375.5" y="41.7" font-size="7.2" fill="#000" stroke="#000" stroke-width="0.1" textLength="11.3" lengthAdjust="spacingAndGlyphs">exp</text>
<rect x="428.5" y="19.5" width="102.5" height="96.25" fill="none" stroke="#666" stroke-width="0.85"/>
<line x1="428.5" y1="115.75" x2="429.7" y2="115.75" stroke="#666" stroke-width="0.85"/>
<line x1="531" y1="115.75" x2="529.8" y2="115.75" stroke="#666" stroke-width="0.85"/>
<text x="424.9" y="118.65" font-size="8" text-anchor="end" font-weight="normal" font-style="normal" fill="#000" stroke="#000" stroke-width="0.12">0</text>
<line x1="428.5" y1="99.71" x2="429.7" y2="99.71" stroke="#666" stroke-width="0.85"/>
<line x1="531" y1="99.71" x2="529.8" y2="99.71" stroke="#666" stroke-width="0.85"/>
<text x="424.9" y="102.61" font-size="8" text-anchor="end" font-weight="normal" font-style="normal" fill="#000" stroke="#000" stroke-width="0.12">2</text>
<line x1="428.5" y1="83.67" x2="429.7" y2="83.67" stroke="#666" stroke-width="0.85"/>
<line x1="531" y1="83.67" x2="529.8" y2="83.67" stroke="#666" stroke-width="0.85"/>
<text x="424.9" y="86.57" font-size="8" text-anchor="end" font-weight="normal" font-style="normal" fill="#000" stroke="#000" stroke-width="0.12">4</text>
<line x1="428.5" y1="67.62" x2="429.7" y2="67.62" stroke="#666" stroke-width="0.85"/>
<line x1="531" y1="67.62" x2="529.8" y2="67.62" stroke="#666" stroke-width="0.85"/>
<text x="424.9" y="70.53" font-size="8" text-anchor="end" font-weight="normal" font-style="normal" fill="#000" stroke="#000" stroke-width="0.12">6</text>
<line x1="428.5" y1="51.58" x2="429.7" y2="51.58" stroke="#666" stroke-width="0.85"/>
<line x1="531" y1="51.58" x2="529.8" y2="51.58" stroke="#666" stroke-width="0.85"/>
<text x="424.9" y="54.48" font-size="8" text-anchor="end" font-weight="normal" font-style="normal" fill="#000" stroke="#000" stroke-width="0.12">8</text>
<line x1="428.5" y1="35.54" x2="429.7" y2="35.54" stroke="#666" stroke-width="0.85"/>
<line x1="531" y1="35.54" x2="529.8" y2="35.54" stroke="#666" stroke-width="0.85"/>
<text x="424.9" y="38.44" font-size="8" text-anchor="end" font-weight="normal" font-style="normal" fill="#000" stroke="#000" stroke-width="0.12">10</text>
<line x1="428.5" y1="19.5" x2="429.7" y2="19.5" stroke="#666" stroke-width="0.85"/>
<line x1="531" y1="19.5" x2="529.8" y2="19.5" stroke="#666" stroke-width="0.85"/>
<text x="424.9" y="22.4" font-size="8" text-anchor="end" font-weight="normal" font-style="normal" fill="#000" stroke="#000" stroke-width="0.12">12</text>
<line x1="428.5" y1="115.75" x2="428.5" y2="114.55" stroke="#666" stroke-width="0.85"/>
<line x1="428.5" y1="19.5" x2="428.5" y2="20.7" stroke="#666" stroke-width="0.85"/>
<text x="427.9" y="126.15" font-size="8" text-anchor="middle" font-weight="normal" font-style="normal" fill="#000" stroke="#000" stroke-width="0.12">0</text>
<line x1="479.75" y1="115.75" x2="479.75" y2="114.55" stroke="#666" stroke-width="0.85"/>
<line x1="479.75" y1="19.5" x2="479.75" y2="20.7" stroke="#666" stroke-width="0.85"/>
<text x="479.15" y="126.15" font-size="8" text-anchor="middle" font-weight="normal" font-style="normal" fill="#000" stroke="#000" stroke-width="0.12">0.5</text>
<line x1="531" y1="115.75" x2="531" y2="114.55" stroke="#666" stroke-width="0.85"/>
<line x1="531" y1="19.5" x2="531" y2="20.7" stroke="#666" stroke-width="0.85"/>
<text x="530.4" y="126.15" font-size="8" text-anchor="middle" font-weight="normal" font-style="normal" fill="#000" stroke="#000" stroke-width="0.12">1</text>
<text x="479.95" y="136.75" font-size="7.8" text-anchor="middle" font-weight="normal" font-style="italic" fill="#222" font-family="Liberation Serif, serif">&#961;</text>
<polyline points="428.5,49.6 440,49.6 450,50 456,50.8 462,52.5 470,55 481.6,58.5 493.1,60.8 510,64.5 523.2,68.3 530.7,98.6" fill="none" stroke="#00f" stroke-width="1.3" stroke-linejoin="round" stroke-linecap="round"/>
<path d="M428.8 32.8V110.7M427.1 32.8H430.5M427.1 110.7H430.5" stroke="#00f" stroke-width="1.2" fill="none"/>
<path d="M430.3 38V78.8M428.6 38H432M428.6 78.8H432" stroke="#00f" stroke-width="1.2" fill="none"/>
<path d="M432 38V76M430.3 38H433.7M430.3 76H433.7" stroke="#00f" stroke-width="1.2" fill="none"/>
<path d="M433.5 38V74.5M431.8 38H435.2M431.8 74.5H435.2" stroke="#00f" stroke-width="1.2" fill="none"/>
<path d="M435.6 38V73.2M433.9 38H437.3M433.9 73.2H437.3" stroke="#00f" stroke-width="1.2" fill="none"/>
<path d="M437.4 39V57.5M435.7 39H439.1M435.7 57.5H439.1" stroke="#00f" stroke-width="1.2" fill="none"/>
<path d="M439.8 39V54.8M438.1 39H441.5M438.1 54.8H441.5" stroke="#00f" stroke-width="1.2" fill="none"/>
<path d="M443.5 37.4V47M441.8 37.4H445.2M441.8 47H445.2" stroke="#00f" stroke-width="1.2" fill="none"/>
<path d="M445.9 32.8V46M444.2 32.8H447.6M444.2 46H447.6" stroke="#00f" stroke-width="1.2" fill="none"/>
<path d="M449 37V47M447.3 37H450.7M447.3 47H450.7" stroke="#00f" stroke-width="1.2" fill="none"/>
<path d="M452.7 40V52M451 40H454.4M451 52H454.4" stroke="#00f" stroke-width="1.2" fill="none"/>
<path d="M457.3 43V55.7M455.6 43H459M455.6 55.7H459" stroke="#00f" stroke-width="1.2" fill="none"/>
<path d="M460.9 45.6V53M459.2 45.6H462.6M459.2 53H462.6" stroke="#00f" stroke-width="1.2" fill="none"/>
<path d="M465 41.9V54M463.3 41.9H466.7M463.3 54H466.7" stroke="#00f" stroke-width="1.2" fill="none"/>
<path d="M468.6 47.4V56M466.9 47.4H470.3M466.9 56H470.3" stroke="#00f" stroke-width="1.2" fill="none"/>
<path d="M472 49.3V59.4M470.3 49.3H473.7M470.3 59.4H473.7" stroke="#00f" stroke-width="1.2" fill="none"/>
<path d="M474.6 52V63.1M472.9 52H476.3M472.9 63.1H476.3" stroke="#00f" stroke-width="1.2" fill="none"/>
<path d="M478.1 52V65.5M476.4 52H479.8M476.4 65.5H479.8" stroke="#00f" stroke-width="1.2" fill="none"/>
<path d="M481.6 52V65.5M479.9 52H483.3M479.9 65.5H483.3" stroke="#00f" stroke-width="1.2" fill="none"/>
<path d="M485 54V63.1M483.3 54H486.7M483.3 63.1H486.7" stroke="#00f" stroke-width="1.2" fill="none"/>
<path d="M489.7 54.4V61M488 54.4H491.4M488 61H491.4" stroke="#00f" stroke-width="1.2" fill="none"/>
<path d="M493.1 57V62M491.4 57H494.8M491.4 62H494.8" stroke="#00f" stroke-width="1.2" fill="none"/>
<path d="M496.6 57V61M494.9 57H498.3M494.9 61H498.3" stroke="#00f" stroke-width="1.2" fill="none"/>
<path d="M500.1 57V61M498.4 57H501.8M498.4 61H501.8" stroke="#00f" stroke-width="1.2" fill="none"/>
<path d="M503.6 57V61.5M501.9 57H505.3M501.9 61.5H505.3" stroke="#00f" stroke-width="1.2" fill="none"/>
<path d="M507 57.5V61.5M505.3 57.5H508.7M505.3 61.5H508.7" stroke="#00f" stroke-width="1.2" fill="none"/>
<path d="M512.8 57.7V63.6M511.1 57.7H514.5M511.1 63.6H514.5" stroke="#00f" stroke-width="1.2" fill="none"/>
<path d="M518.1 58.5V64.8M516.4 58.5H519.8M516.4 64.8H519.8" stroke="#00f" stroke-width="1.2" fill="none"/>
<path d="M524.4 63.8V72.4M522.7 63.8H526.1M522.7 72.4H526.1" stroke="#00f" stroke-width="1.2" fill="none"/>
<circle cx="428.8" cy="43.3" r="1.7" fill="none" stroke="#00f" stroke-width="1.3"/>
<circle cx="430.3" cy="43.8" r="1.7" fill="none" stroke="#00f" stroke-width="1.3"/>
<circle cx="432" cy="43.8" r="1.7" fill="none" stroke="#00f" stroke-width="1.3"/>
<circle cx="433.5" cy="43.8" r="1.7" fill="none" stroke="#00f" stroke-width="1.3"/>
<circle cx="435.6" cy="43.8" r="1.7" fill="none" stroke="#00f" stroke-width="1.3"/>
<circle cx="437.4" cy="44.3" r="1.7" fill="none" stroke="#00f" stroke-width="1.3"/>
<circle cx="439.8" cy="44.3" r="1.7" fill="none" stroke="#00f" stroke-width="1.3"/>
<circle cx="443.5" cy="43.8" r="1.7" fill="none" stroke="#00f" stroke-width="1.3"/>
<circle cx="445.9" cy="43.8" r="1.7" fill="none" stroke="#00f" stroke-width="1.3"/>
<circle cx="449" cy="44.8" r="1.7" fill="none" stroke="#00f" stroke-width="1.3"/>
<circle cx="452.7" cy="45" r="1.7" fill="none" stroke="#00f" stroke-width="1.3"/>
<circle cx="457.3" cy="48" r="1.7" fill="none" stroke="#00f" stroke-width="1.3"/>
<circle cx="460.9" cy="49" r="1.7" fill="none" stroke="#00f" stroke-width="1.3"/>
<circle cx="465" cy="50" r="1.7" fill="none" stroke="#00f" stroke-width="1.3"/>
<circle cx="468.6" cy="52" r="1.7" fill="none" stroke="#00f" stroke-width="1.3"/>
<circle cx="472" cy="54" r="1.7" fill="none" stroke="#00f" stroke-width="1.3"/>
<circle cx="474.6" cy="56.6" r="1.7" fill="none" stroke="#00f" stroke-width="1.3"/>
<circle cx="478.1" cy="57" r="1.7" fill="none" stroke="#00f" stroke-width="1.3"/>
<circle cx="481.6" cy="57.5" r="1.7" fill="none" stroke="#00f" stroke-width="1.3"/>
<circle cx="485" cy="58" r="1.7" fill="none" stroke="#00f" stroke-width="1.3"/>
<circle cx="489.7" cy="57.5" r="1.7" fill="none" stroke="#00f" stroke-width="1.3"/>
<circle cx="493.1" cy="59.5" r="1.7" fill="none" stroke="#00f" stroke-width="1.3"/>
<circle cx="496.6" cy="59" r="1.7" fill="none" stroke="#00f" stroke-width="1.3"/>
<circle cx="500.1" cy="59" r="1.7" fill="none" stroke="#00f" stroke-width="1.3"/>
<circle cx="503.6" cy="59.3" r="1.7" fill="none" stroke="#00f" stroke-width="1.3"/>
<circle cx="507" cy="59.5" r="1.7" fill="none" stroke="#00f" stroke-width="1.3"/>
<circle cx="512.8" cy="60.6" r="1.7" fill="none" stroke="#00f" stroke-width="1.3"/>
<circle cx="518.1" cy="62" r="1.7" fill="none" stroke="#00f" stroke-width="1.3"/>
<circle cx="524.4" cy="68.9" r="1.7" fill="none" stroke="#00f" stroke-width="1.3"/>
<circle cx="429.5" cy="43.2" r="1.7" fill="none" stroke="#00f" stroke-width="1.3"/>
<circle cx="431.15" cy="43.23" r="1.7" fill="none" stroke="#00f" stroke-width="1.3"/>
<circle cx="432.81" cy="43.26" r="1.7" fill="none" stroke="#00f" stroke-width="1.3"/>
<circle cx="434.46" cy="43.29" r="1.7" fill="none" stroke="#00f" stroke-width="1.3"/>
<circle cx="436.12" cy="43.32" r="1.7" fill="none" stroke="#00f" stroke-width="1.3"/>
<circle cx="437.77" cy="43.35" r="1.7" fill="none" stroke="#00f" stroke-width="1.3"/>
<circle cx="439.42" cy="43.38" r="1.7" fill="none" stroke="#00f" stroke-width="1.3"/>
<circle cx="441.08" cy="43.42" r="1.7" fill="none" stroke="#00f" stroke-width="1.3"/>
<circle cx="442.73" cy="43.45" r="1.7" fill="none" stroke="#00f" stroke-width="1.3"/>
<circle cx="444.38" cy="43.48" r="1.7" fill="none" stroke="#00f" stroke-width="1.3"/>
<circle cx="446.04" cy="43.51" r="1.7" fill="none" stroke="#00f" stroke-width="1.3"/>
<circle cx="447.69" cy="43.54" r="1.7" fill="none" stroke="#00f" stroke-width="1.3"/>
<circle cx="449.35" cy="43.57" r="1.7" fill="none" stroke="#00f" stroke-width="1.3"/>
<circle cx="451" cy="43.6" r="1.7" fill="none" stroke="#00f" stroke-width="1.3"/>
<circle cx="530.7" cy="98.6" r="2.4" fill="#00f"/>
<rect x="478.3" y="24.7" width="47.6" height="24.9" fill="#fff" stroke="#666" stroke-width="0.85"/>
<polyline points="479.9,31.5 495.9,31.5" fill="none" stroke="#00f" stroke-width="1.4" stroke-linejoin="round" stroke-linecap="round"/>
<path d="M487.9 38.3V47.3M486.2 38.3H489.6M486.2 47.3H489.6" stroke="#00f" stroke-width="1.2" fill="none"/>
<circle cx="487.9" cy="42.7" r="1.7" fill="none" stroke="#00f" stroke-width="1.3"/>
<text x="497.6" y="32.7" font-size="7.2" fill="#000" stroke="#000" stroke-width="0.1">n<tspan font-size="5.8" dy="2.9" dx="0.2">e</tspan></text>
<text x="506.5" y="32.7" font-size="7.2" fill="#000" stroke="#000" stroke-width="0.1" textLength="14.6" lengthAdjust="spacingAndGlyphs">fenix</text>
<text x="497.6" y="43.9" font-size="7.2" fill="#000" stroke="#000" stroke-width="0.1">n<tspan font-size="5.8" dy="2.9" dx="0.2">e</tspan></text>
<text x="506.5" y="43.9" font-size="7.2" fill="#000" stroke="#000" stroke-width="0.1" textLength="11.3" lengthAdjust="spacingAndGlyphs">exp</text>
<rect x="18.5" y="148.5" width="104.5" height="100" fill="none" stroke="#666" stroke-width="0.85"/>
<line x1="18.5" y1="248.5" x2="19.7" y2="248.5" stroke="#666" stroke-width="0.85"/>
<line x1="123" y1="248.5" x2="121.8" y2="248.5" stroke="#666" stroke-width="0.85"/>
<text x="14.9" y="251.4" font-size="8" text-anchor="end" font-weight="normal" font-style="normal" fill="#000" stroke="#000" stroke-width="0.12">0</text>
<line x1="18.5" y1="223.5" x2="19.7" y2="223.5" stroke="#666" stroke-width="0.85"/>
<line x1="123" y1="223.5" x2="121.8" y2="223.5" stroke="#666" stroke-width="0.85"/>
<text x="14.9" y="226.4" font-size="8" text-anchor="end" font-weight="normal" font-style="normal" fill="#000" stroke="#000" stroke-width="0.12">1</text>
<line x1="18.5" y1="198.5" x2="19.7" y2="198.5" stroke="#666" stroke-width="0.85"/>
<line x1="123" y1="198.5" x2="121.8" y2="198.5" stroke="#666" stroke-width="0.85"/>
<text x="14.9" y="201.4" font-size="8" text-anchor="end" font-weight="normal" font-style="normal" fill="#000" stroke="#000" stroke-width="0.12">2</text>
<line x1="18.5" y1="173.5" x2="19.7" y2="173.5" stroke="#666" stroke-width="0.85"/>
<line x1="123" y1="173.5" x2="121.8" y2="173.5" stroke="#666" stroke-width="0.85"/>
<text x="14.9" y="176.4" font-size="8" text-anchor="end" font-weight="normal" font-style="normal" fill="#000" stroke="#000" stroke-width="0.12">3</text>
<line x1="18.5" y1="148.5" x2="19.7" y2="148.5" stroke="#666" stroke-width="0.85"/>
<line x1="123" y1="148.5" x2="121.8" y2="148.5" stroke="#666" stroke-width="0.85"/>
<text x="14.9" y="151.4" font-size="8" text-anchor="end" font-weight="normal" font-style="normal" fill="#000" stroke="#000" stroke-width="0.12">4</text>
<line x1="18.5" y1="248.5" x2="18.5" y2="247.3" stroke="#666" stroke-width="0.85"/>
<line x1="18.5" y1="148.5" x2="18.5" y2="149.7" stroke="#666" stroke-width="0.85"/>
<text x="17.9" y="258.9" font-size="8" text-anchor="middle" font-weight="normal" font-style="normal" fill="#000" stroke="#000" stroke-width="0.12">0</text>
<line x1="70.75" y1="248.5" x2="70.75" y2="247.3" stroke="#666" stroke-width="0.85"/>
<line x1="70.75" y1="148.5" x2="70.75" y2="149.7" stroke="#666" stroke-width="0.85"/>
<text x="70.15" y="258.9" font-size="8" text-anchor="middle" font-weight="normal" font-style="normal" fill="#000" stroke="#000" stroke-width="0.12">0.5</text>
<line x1="123" y1="248.5" x2="123" y2="247.3" stroke="#666" stroke-width="0.85"/>
<line x1="123" y1="148.5" x2="123" y2="149.7" stroke="#666" stroke-width="0.85"/>
<text x="122.4" y="258.9" font-size="8" text-anchor="middle" font-weight="normal" font-style="normal" fill="#000" stroke="#000" stroke-width="0.12">1</text>
<text x="70.95" y="269.5" font-size="7.8" text-anchor="middle" font-weight="normal" font-style="italic" fill="#222" font-family="Liberation Serif, serif">&#961;</text>
<polyline points="18.5,183.2 30.7,184.7 40,189.2 47.4,193 53.2,196.2 56.2,199 62.1,205.7 69.4,213.1 76.8,219 80,221.6 89.9,226.3 99.9,229.8 110.6,234 115.6,239.8 119.5,244 122.8,247.5" fill="none" stroke="#f00" stroke-width="1.5" stroke-linejoin="round" stroke-linecap="round"/>
<path d="M18.2 151.6V180.6M16.5 151.6H19.9M16.5 180.6H19.9" stroke="#f00" stroke-width="1.2" fill="none"/>
<path d="M22.9 162.2V180.6M21.2 162.2H24.6M21.2 180.6H24.6" stroke="#f00" stroke-width="1.2" fill="none"/>
<path d="M28 172.7V181.5M26.3 172.7H29.7M26.3 181.5H29.7" stroke="#f00" stroke-width="1.2" fill="none"/>
<path d="M32.6 175.5V186.9M30.9 175.5H34.3M30.9 186.9H34.3" stroke="#f00" stroke-width="1.2" fill="none"/>
<path d="M37.8 179.5V190.6M36.1 179.5H39.5M36.1 190.6H39.5" stroke="#f00" stroke-width="1.2" fill="none"/>
<path d="M42.5 187.6V197.2M40.8 187.6H44.2M40.8 197.2H44.2" stroke="#f00" stroke-width="1.2" fill="none"/>
<path d="M47.2 195V201.6M45.5 195H48.9M45.5 201.6H48.9" stroke="#f00" stroke-width="1.2" fill="none"/>
<path d="M52.8 202.6V207.5M51.1 202.6H54.5M51.1 207.5H54.5" stroke="#f00" stroke-width="1.2" fill="none"/>
<path d="M58.1 208V213M56.4 208H59.8M56.4 213H59.8" stroke="#f00" stroke-width="1.2" fill="none"/>
<path d="M64 212.5V217.5M62.3 212.5H65.7M62.3 217.5H65.7" stroke="#f00" stroke-width="1.2" fill="none"/>
<path d="M70.6 216V220M68.9 216H72.3M68.9 220H72.3" stroke="#f00" stroke-width="1.2" fill="none"/>
<path d="M76.5 219.2V223.5M74.8 219.2H78.2M74.8 223.5H78.2" stroke="#f00" stroke-width="1.2" fill="none"/>
<path d="M84.1 224.5V232.8M82.4 224.5H85.8M82.4 232.8H85.8" stroke="#f00" stroke-width="1.2" fill="none"/>
<path d="M91.6 229V232.5M89.9 229H93.3M89.9 232.5H93.3" stroke="#f00" stroke-width="1.2" fill="none"/>
<path d="M99.9 231.5V235M98.2 231.5H101.6M98.2 235H101.6" stroke="#f00" stroke-width="1.2" fill="none"/>
<path d="M104 232.5V236M102.3 232.5H105.7M102.3 236H105.7" stroke="#f00" stroke-width="1.2" fill="none"/>
<circle cx="18.2" cy="171.3" r="1.7" fill="none" stroke="#f00" stroke-width="1.3"/>
<circle cx="22.9" cy="172.6" r="1.7" fill="none" stroke="#f00" stroke-width="1.3"/>
<circle cx="28" cy="177.2" r="1.7" fill="none" stroke="#f00" stroke-width="1.3"/>
<circle cx="32.6" cy="181" r="1.7" fill="none" stroke="#f00" stroke-width="1.3"/>
<circle cx="37.8" cy="185.9" r="1.7" fill="none" stroke="#f00" stroke-width="1.3"/>
<circle cx="42.5" cy="191.3" r="1.7" fill="none" stroke="#f00" stroke-width="1.3"/>
<circle cx="47.2" cy="198.7" r="1.7" fill="none" stroke="#f00" stroke-width="1.3"/>
<circle cx="52.8" cy="204.9" r="1.7" fill="none" stroke="#f00" stroke-width="1.3"/>
<circle cx="58.1" cy="210.6" r="1.7" fill="none" stroke="#f00" stroke-width="1.3"/>
<circle cx="64" cy="215" r="1.7" fill="none" stroke="#f00" stroke-width="1.3"/>
<circle cx="70.6" cy="218" r="1.7" fill="none" stroke="#f00" stroke-width="1.3"/>
<circle cx="76.5" cy="221.5" r="1.7" fill="none" stroke="#f00" stroke-width="1.3"/>
<circle cx="84.1" cy="226.8" r="1.7" fill="none" stroke="#f00" stroke-width="1.3"/>
<circle cx="91.6" cy="230.7" r="1.7" fill="none" stroke="#f00" stroke-width="1.3"/>
<circle cx="99.9" cy="233.5" r="1.7" fill="none" stroke="#f00" stroke-width="1.3"/>
<circle cx="104" cy="234.5" r="1.7" fill="none" stroke="#f00" stroke-width="1.3"/>
<polyline points="18.5,198.8 31.2,201.3 41.8,205.7 52.4,212.3 61.7,218.3 70,221.8 80,225 96.6,229.5 111.5,234.2 115,236.5 118,240.5 122.8,247.6" fill="none" stroke="#000" stroke-width="1.5" stroke-linejoin="round" stroke-linecap="round"/>
<path d="M19.7 194V200M18 194H21.4M18 200H21.4" stroke="#000" stroke-width="1.2" fill="none"/>
<path d="M22 190V196M20.3 190H23.7M20.3 196H23.7" stroke="#000" stroke-width="1.2" fill="none"/>
<path d="M24.5 188.5V194.5M22.8 188.5H26.2M22.8 194.5H26.2" stroke="#000" stroke-width="1.2" fill="none"/>
<path d="M27 192V198M25.3 192H28.7M25.3 198H28.7" stroke="#000" stroke-width="1.2" fill="none"/>
<path d="M28.5 190.5V196M26.8 190.5H30.2M26.8 196H30.2" stroke="#000" stroke-width="1.2" fill="none"/>
<path d="M32.2 198V202M30.5 198H33.9M30.5 202H33.9" stroke="#000" stroke-width="1.2" fill="none"/>
<path d="M35.1 198V202M33.4 198H36.8M33.4 202H36.8" stroke="#000" stroke-width="1.2" fill="none"/>
<path d="M38.1 199.5V203.5M36.4 199.5H39.8M36.4 203.5H39.8" stroke="#000" stroke-width="1.2" fill="none"/>
<path d="M44.7 205.2V208.4M43 205.2H46.4M43 208.4H46.4" stroke="#000" stroke-width="1.2" fill="none"/>
<path d="M48.4 206.6V209.8M46.7 206.6H50.1M46.7 209.8H50.1" stroke="#000" stroke-width="1.2" fill="none"/>
<path d="M50.5 209V212.2M48.8 209H52.2M48.8 212.2H52.2" stroke="#000" stroke-width="1.2" fill="none"/>
<path d="M52.9 211.2V214.4M51.2 211.2H54.6M51.2 214.4H54.6" stroke="#000" stroke-width="1.2" fill="none"/>
<path d="M55.9 213.4V216.6M54.2 213.4H57.6M54.2 216.6H57.6" stroke="#000" stroke-width="1.2" fill="none"/>
<path d="M58.8 214.9V218.1M57.1 214.9H60.5M57.1 218.1H60.5" stroke="#000" stroke-width="1.2" fill="none"/>
<path d="M61 216V219.2M59.3 216H62.7M59.3 219.2H62.7" stroke="#000" stroke-width="1.2" fill="none"/>
<path d="M63.2 217.1V220.3M61.5 217.1H64.9M61.5 220.3H64.9" stroke="#000" stroke-width="1.2" fill="none"/>
<path d="M69.1 219.3V222.5M67.4 219.3H70.8M67.4 222.5H70.8" stroke="#000" stroke-width="1.2" fill="none"/>
<path d="M72.1 221.5V224.7M70.4 221.5H73.8M70.4 224.7H73.8" stroke="#000" stroke-width="1.2" fill="none"/>
<path d="M75 222.2V225.4M73.3 222.2H76.7M73.3 225.4H76.7" stroke="#000" stroke-width="1.2" fill="none"/>
<path d="M77.9 223.7V226.9M76.2 223.7H79.6M76.2 226.9H79.6" stroke="#000" stroke-width="1.2" fill="none"/>
<path d="M80.9 224.9V228.1M79.2 224.9H82.6M79.2 228.1H82.6" stroke="#000" stroke-width="1.2" fill="none"/>
<path d="M84.1 225.2V228.4M82.4 225.2H85.8M82.4 228.4H85.8" stroke="#000" stroke-width="1.2" fill="none"/>
<path d="M87.5 227.4V230.6M85.8 227.4H89.2M85.8 230.6H89.2" stroke="#000" stroke-width="1.2" fill="none"/>
<path d="M91.6 229.1V232.3M89.9 229.1H93.3M89.9 232.3H93.3" stroke="#000" stroke-width="1.2" fill="none"/>
<path d="M95.7 230.7V233.9M94 230.7H97.4M94 233.9H97.4" stroke="#000" stroke-width="1.2" fill="none"/>
<path d="M99.9 231.9V235.1M98.2 231.9H101.6M98.2 235.1H101.6" stroke="#000" stroke-width="1.2" fill="none"/>
<path d="M104 232.9V236.1M102.3 232.9H105.7M102.3 236.1H105.7" stroke="#000" stroke-width="1.2" fill="none"/>
<path d="M109 234V237.2M107.3 234H110.7M107.3 237.2H110.7" stroke="#000" stroke-width="1.2" fill="none"/>
<circle cx="19.7" cy="197.2" r="1.7" fill="none" stroke="#000" stroke-width="1.3"/>
<circle cx="22" cy="193" r="1.7" fill="none" stroke="#000" stroke-width="1.3"/>
<circle cx="24.5" cy="191.5" r="1.7" fill="none" stroke="#000" stroke-width="1.3"/>
<circle cx="27" cy="195" r="1.7" fill="none" stroke="#000" stroke-width="1.3"/>
<circle cx="28.5" cy="193" r="1.7" fill="none" stroke="#000" stroke-width="1.3"/>
<circle cx="32.2" cy="200.1" r="1.7" fill="none" stroke="#000" stroke-width="1.3"/>
<circle cx="35.1" cy="200.1" r="1.7" fill="none" stroke="#000" stroke-width="1.3"/>
<circle cx="38.1" cy="201.6" r="1.7" fill="none" stroke="#000" stroke-width="1.3"/>
<circle cx="44.7" cy="206.8" r="1.7" fill="none" stroke="#000" stroke-width="1.3"/>
<circle cx="48.4" cy="208.2" r="1.7" fill="none" stroke="#000" stroke-width="1.3"/>
<circle cx="50.5" cy="210.6" r="1.7" fill="none" stroke="#000" stroke-width="1.3"/>
<circle cx="52.9" cy="212.8" r="1.7" fill="none" stroke="#000" stroke-width="1.3"/>
<circle cx="55.9" cy="215" r="1.7" fill="none" stroke="#000" stroke-width="1.3"/>
<circle cx="58.8" cy="216.5" r="1.7" fill="none" stroke="#000" stroke-width="1.3"/>
<circle cx="61" cy="217.6" r="1.7" fill="none" stroke="#000" stroke-width="1.3"/>
<circle cx="63.2" cy="218.7" r="1.7" fill="none" stroke="#000" stroke-width="1.3"/>
<circle cx="69.1" cy="220.9" r="1.7" fill="none" stroke="#000" stroke-width="1.3"/>
<circle cx="72.1" cy="223.1" r="1.7" fill="none" stroke="#000" stroke-width="1.3"/>
<circle cx="75" cy="223.8" r="1.7" fill="none" stroke="#000" stroke-width="1.3"/>
<circle cx="77.9" cy="225.3" r="1.7" fill="none" stroke="#000" stroke-width="1.3"/>
<circle cx="80.9" cy="226.5" r="1.7" fill="none" stroke="#000" stroke-width="1.3"/>
<circle cx="84.1" cy="226.8" r="1.7" fill="none" stroke="#000" stroke-width="1.3"/>
<circle cx="87.5" cy="229" r="1.7" fill="none" stroke="#000" stroke-width="1.3"/>
<circle cx="91.6" cy="230.7" r="1.7" fill="none" stroke="#000" stroke-width="1.3"/>
<circle cx="95.7" cy="232.3" r="1.7" fill="none" stroke="#000" stroke-width="1.3"/>
<circle cx="99.9" cy="233.5" r="1.7" fill="none" stroke="#000" stroke-width="1.3"/>
<circle cx="104" cy="234.5" r="1.7" fill="none" stroke="#000" stroke-width="1.3"/>
<circle cx="109" cy="235.6" r="1.7" fill="none" stroke="#000" stroke-width="1.3"/>
<circle cx="122.8" cy="248" r="2.6" fill="#f00"/>
<rect x="72.6" y="154.2" width="45.3" height="49" fill="#fff" stroke="#666" stroke-width="0.85"/>
<polyline points="74.4,160.3 90.8,160.3" fill="none" stroke="#f00" stroke-width="1.2" stroke-linejoin="round" stroke-linecap="round"/>
<path d="M82.7 168.1V176.5M81 168.1H84.4M81 176.5H84.4" stroke="#f00" stroke-width="1.2" fill="none"/>
<circle cx="82.7" cy="172.3" r="1.7" fill="none" stroke="#f00" stroke-width="1.3"/>
<polyline points="74.4,184.3 90.8,184.3" fill="none" stroke="#222" stroke-width="1.1" stroke-linejoin="round" stroke-linecap="round"/>
<path d="M82.7 192.1V200.5M81 192.1H84.4M81 200.5H84.4" stroke="#000" stroke-width="1.2" fill="none"/>
<circle cx="82.7" cy="196.3" r="1.7" fill="none" stroke="#000" stroke-width="1.3"/>
<text x="92.7" y="161.4" font-size="7.6" fill="#000" stroke="#000" stroke-width="0.15">T<tspan font-size="5.9" dy="3.5" dx="0.2" stroke-width="0.1">e,fenix</tspan></text>
<text x="92.7" y="173.4" font-size="7.6" fill="#000" stroke="#000" stroke-width="0.15">T<tspan font-size="5.9" dy="3.5" dx="0.2" stroke-width="0.1">e,exp</tspan></text>
<text x="92.7" y="185.4" font-size="7.6" fill="#000" stroke="#000" stroke-width="0.15">T<tspan font-size="5.9" dy="3.5" dx="0.2" stroke-width="0.1">i,fenix</tspan></text>
<text x="92.7" y="197.4" font-size="7.6" fill="#000" stroke="#000" stroke-width="0.15">T<tspan font-size="5.9" dy="3.5" dx="0.2" stroke-width="0.1">i,exp</tspan></text>
<rect x="156.5" y="148.5" width="105" height="100" fill="none" stroke="#666" stroke-width="0.85"/>
<line x1="156.5" y1="248.5" x2="157.7" y2="248.5" stroke="#666" stroke-width="0.85"/>
<line x1="261.5" y1="248.5" x2="260.3" y2="248.5" stroke="#666" stroke-width="0.85"/>
<text x="152.9" y="251.4" font-size="8" text-anchor="end" font-weight="normal" font-style="normal" fill="#000" stroke="#000" stroke-width="0.12">0</text>
<line x1="156.5" y1="228.5" x2="157.7" y2="228.5" stroke="#666" stroke-width="0.85"/>
<line x1="261.5" y1="228.5" x2="260.3" y2="228.5" stroke="#666" stroke-width="0.85"/>
<text x="152.9" y="231.4" font-size="8" text-anchor="end" font-weight="normal" font-style="normal" fill="#000" stroke="#000" stroke-width="0.12">1</text>
<line x1="156.5" y1="208.5" x2="157.7" y2="208.5" stroke="#666" stroke-width="0.85"/>
<line x1="261.5" y1="208.5" x2="260.3" y2="208.5" stroke="#666" stroke-width="0.85"/>
<text x="152.9" y="211.4" font-size="8" text-anchor="end" font-weight="normal" font-style="normal" fill="#000" stroke="#000" stroke-width="0.12">2</text>
<line x1="156.5" y1="188.5" x2="157.7" y2="188.5" stroke="#666" stroke-width="0.85"/>
<line x1="261.5" y1="188.5" x2="260.3" y2="188.5" stroke="#666" stroke-width="0.85"/>
<text x="152.9" y="191.4" font-size="8" text-anchor="end" font-weight="normal" font-style="normal" fill="#000" stroke="#000" stroke-width="0.12">3</text>
<line x1="156.5" y1="168.5" x2="157.7" y2="168.5" stroke="#666" stroke-width="0.85"/>
<line x1="261.5" y1="168.5" x2="260.3" y2="168.5" stroke="#666" stroke-width="0.85"/>
<text x="152.9" y="171.4" font-size="8" text-anchor="end" font-weight="normal" font-style="normal" fill="#000" stroke="#000" stroke-width="0.12">4</text>
<line x1="156.5" y1="148.5" x2="157.7" y2="148.5" stroke="#666" stroke-width="0.85"/>
<line x1="261.5" y1="148.5" x2="260.3" y2="148.5" stroke="#666" stroke-width="0.85"/>
<text x="152.9" y="151.4" font-size="8" text-anchor="end" font-weight="normal" font-style="normal" fill="#000" stroke="#000" stroke-width="0.12">5</text>
<line x1="156.5" y1="248.5" x2="156.5" y2="247.3" stroke="#666" stroke-width="0.85"/>
<line x1="156.5" y1="148.5" x2="156.5" y2="149.7" stroke="#666" stroke-width="0.85"/>
<text x="155.9" y="258.9" font-size="8" text-anchor="middle" font-weight="normal" font-style="normal" fill="#000" stroke="#000" stroke-width="0.12">0</text>
<line x1="209" y1="248.5" x2="209" y2="247.3" stroke="#666" stroke-width="0.85"/>
<line x1="209" y1="148.5" x2="209" y2="149.7" stroke="#666" stroke-width="0.85"/>
<text x="208.4" y="258.9" font-size="8" text-anchor="middle" font-weight="normal" font-style="normal" fill="#000" stroke="#000" stroke-width="0.12">0.5</text>
<line x1="261.5" y1="248.5" x2="261.5" y2="247.3" stroke="#666" stroke-width="0.85"/>
<line x1="261.5" y1="148.5" x2="261.5" y2="149.7" stroke="#666" stroke-width="0.85"/>
<text x="260.9" y="258.9" font-size="8" text-anchor="middle" font-weight="normal" font-style="normal" fill="#000" stroke="#000" stroke-width="0.12">1</text>
<text x="209.2" y="269.5" font-size="7.8" text-anchor="middle" font-weight="normal" font-style="italic" fill="#222" font-family="Liberation Serif, serif">&#961;</text>
<polyline points="156.5,181.6 165,182.7 170.5,184.9 176.4,188.3 183,195.4 188.5,200.4 194,204.8 199.6,209.2 204,213.4 209.3,217.6 214.1,221 224.3,227.1 237.8,231.3 248.8,235.1 253,238.9 257,243 261.4,247.4" fill="none" stroke="#f00" stroke-width="1.5" stroke-linejoin="round" stroke-linecap="round"/>
<path d="M156.2 160.7V179.1M154.5 160.7H157.9M154.5 179.1H157.9" stroke="#f00" stroke-width="1.2" fill="none"/>
<path d="M161.4 168.1V178.6M159.7 168.1H163.1M159.7 178.6H163.1" stroke="#f00" stroke-width="1.2" fill="none"/>
<path d="M166.5 174.2V180.8M164.8 174.2H168.2M164.8 180.8H168.2" stroke="#f00" stroke-width="1.2" fill="none"/>
<path d="M171.4 175.7V186.7M169.7 175.7H173.1M169.7 186.7H173.1" stroke="#f00" stroke-width="1.2" fill="none"/>
<path d="M176.1 180.1V193.3M174.4 180.1H177.8M174.4 193.3H177.8" stroke="#f00" stroke-width="1.2" fill="none"/>
<path d="M180.8 191.1V201.4M179.1 191.1H182.5M179.1 201.4H182.5" stroke="#f00" stroke-width="1.2" fill="none"/>
<path d="M185.6 198.5V205.1M183.9 198.5H187.3M183.9 205.1H187.3" stroke="#f00" stroke-width="1.2" fill="none"/>
<path d="M190.8 205V211M189.1 205H192.5M189.1 211H192.5" stroke="#f00" stroke-width="1.2" fill="none"/>
<path d="M196.3 211V216M194.6 211H198M194.6 216H198" stroke="#f00" stroke-width="1.2" fill="none"/>
<path d="M202.2 216V220.5M200.5 216H203.9M200.5 220.5H203.9" stroke="#f00" stroke-width="1.2" fill="none"/>
<path d="M208.1 218V224M206.4 218H209.8M206.4 224H209.8" stroke="#f00" stroke-width="1.2" fill="none"/>
<path d="M214.7 217.8V229.8M213 217.8H216.4M213 229.8H216.4" stroke="#f00" stroke-width="1.2" fill="none"/>
<path d="M221.9 226.5V234M220.2 226.5H223.6M220.2 234H223.6" stroke="#f00" stroke-width="1.2" fill="none"/>
<path d="M227.6 230.5V234M225.9 230.5H229.3M225.9 234H229.3" stroke="#f00" stroke-width="1.2" fill="none"/>
<path d="M236.1 231.6V236.5M234.4 231.6H237.8M234.4 236.5H237.8" stroke="#f00" stroke-width="1.2" fill="none"/>
<path d="M245.4 235.5V239M243.7 235.5H247.1M243.7 239H247.1" stroke="#f00" stroke-width="1.2" fill="none"/>
<circle cx="156.2" cy="171.7" r="1.7" fill="none" stroke="#f00" stroke-width="1.3"/>
<circle cx="161.4" cy="173.6" r="1.7" fill="none" stroke="#f00" stroke-width="1.3"/>
<circle cx="166.5" cy="178.6" r="1.7" fill="none" stroke="#f00" stroke-width="1.3"/>
<circle cx="171.4" cy="183.5" r="1.7" fill="none" stroke="#f00" stroke-width="1.3"/>
<circle cx="176.1" cy="188.9" r="1.7" fill="none" stroke="#f00" stroke-width="1.3"/>
<circle cx="180.8" cy="194.8" r="1.7" fill="none" stroke="#f00" stroke-width="1.3"/>
<circle cx="185.6" cy="202.1" r="1.7" fill="none" stroke="#f00" stroke-width="1.3"/>
<circle cx="190.8" cy="208" r="1.7" fill="none" stroke="#f00" stroke-width="1.3"/>
<circle cx="196.3" cy="213.6" r="1.7" fill="none" stroke="#f00" stroke-width="1.3"/>
<circle cx="202.2" cy="218.1" r="1.7" fill="none" stroke="#f00" stroke-width="1.3"/>
<circle cx="208.1" cy="221" r="1.7" fill="none" stroke="#f00" stroke-width="1.3"/>
<circle cx="214.7" cy="223" r="1.7" fill="none" stroke="#f00" stroke-width="1.3"/>
<circle cx="221.9" cy="229" r="1.7" fill="none" stroke="#f00" stroke-width="1.3"/>
<circle cx="227.6" cy="232.2" r="1.7" fill="none" stroke="#f00" stroke-width="1.3"/>
<circle cx="236.1" cy="234.7" r="1.7" fill="none" stroke="#f00" stroke-width="1.3"/>
<circle cx="245.4" cy="237.3" r="1.7" fill="none" stroke="#f00" stroke-width="1.3"/>
<polyline points="156.5,199.2 172,204.2 183,209 192.8,215 204,220.8 214.1,224.6 224.3,228.5 237.8,232.5 247.9,235.4 253,239.6 257,243 261.5,247.2" fill="none" stroke="#000" stroke-width="1.5" stroke-linejoin="round" stroke-linecap="round"/>
<path d="M157.5 196.5V202.5M155.8 196.5H159.2M155.8 202.5H159.2" stroke="#000" stroke-width="1.2" fill="none"/>
<path d="M158.5 193.8V198M156.8 193.8H160.2M156.8 198H160.2" stroke="#000" stroke-width="1.2" fill="none"/>
<path d="M160.5 194V199M158.8 194H162.2M158.8 199H162.2" stroke="#000" stroke-width="1.2" fill="none"/>
<path d="M163.5 195V200M161.8 195H165.2M161.8 200H165.2" stroke="#000" stroke-width="1.2" fill="none"/>
<path d="M169.4 201V205M167.7 201H171.1M167.7 205H171.1" stroke="#000" stroke-width="1.2" fill="none"/>
<path d="M172.4 201.5V205.5M170.7 201.5H174.1M170.7 205.5H174.1" stroke="#000" stroke-width="1.2" fill="none"/>
<path d="M176.1 204.5V208.5M174.4 204.5H177.8M174.4 208.5H177.8" stroke="#000" stroke-width="1.2" fill="none"/>
<path d="M182 207.9V211.1M180.3 207.9H183.7M180.3 211.1H183.7" stroke="#000" stroke-width="1.2" fill="none"/>
<path d="M186 211.3V214.5M184.3 211.3H187.7M184.3 214.5H187.7" stroke="#000" stroke-width="1.2" fill="none"/>
<path d="M188.9 214.3V217.5M187.2 214.3H190.6M187.2 217.5H190.6" stroke="#000" stroke-width="1.2" fill="none"/>
<path d="M191.9 215.7V218.9M190.2 215.7H193.6M190.2 218.9H193.6" stroke="#000" stroke-width="1.2" fill="none"/>
<path d="M194.8 217.2V220.4M193.1 217.2H196.5M193.1 220.4H196.5" stroke="#000" stroke-width="1.2" fill="none"/>
<path d="M197.8 218.7V221.9M196.1 218.7H199.5M196.1 221.9H199.5" stroke="#000" stroke-width="1.2" fill="none"/>
<path d="M200.7 220.6V223.8M199 220.6H202.4M199 223.8H202.4" stroke="#000" stroke-width="1.2" fill="none"/>
<path d="M206.6 222.3V225.5M204.9 222.3H208.3M204.9 225.5H208.3" stroke="#000" stroke-width="1.2" fill="none"/>
<path d="M209.5 223.8V227M207.8 223.8H211.2M207.8 227H211.2" stroke="#000" stroke-width="1.2" fill="none"/>
<path d="M212.5 224.5V227.7M210.8 224.5H214.2M210.8 227.7H214.2" stroke="#000" stroke-width="1.2" fill="none"/>
<path d="M215.4 225.6V228.8M213.7 225.6H217.1M213.7 228.8H217.1" stroke="#000" stroke-width="1.2" fill="none"/>
<path d="M219.1 226.9V230.1M217.4 226.9H220.8M217.4 230.1H220.8" stroke="#000" stroke-width="1.2" fill="none"/>
<path d="M222 228.2V231.4M220.3 228.2H223.7M220.3 231.4H223.7" stroke="#000" stroke-width="1.2" fill="none"/>
<path d="M224.2 229.7V232.9M222.5 229.7H225.9M222.5 232.9H225.9" stroke="#000" stroke-width="1.2" fill="none"/>
<path d="M228 230.8V234M226.3 230.8H229.7M226.3 234H229.7" stroke="#000" stroke-width="1.2" fill="none"/>
<path d="M232.7 232.3V235.5M231 232.3H234.4M231 235.5H234.4" stroke="#000" stroke-width="1.2" fill="none"/>
<path d="M236.5 233.9V237.1M234.8 233.9H238.2M234.8 237.1H238.2" stroke="#000" stroke-width="1.2" fill="none"/>
<path d="M240.8 234.9V238.1M239.1 234.9H242.5M239.1 238.1H242.5" stroke="#000" stroke-width="1.2" fill="none"/>
<path d="M245.8 235.9V239.1M244.1 235.9H247.5M244.1 239.1H247.5" stroke="#000" stroke-width="1.2" fill="none"/>
<circle cx="157.5" cy="200" r="1.7" fill="none" stroke="#000" stroke-width="1.3"/>
<circle cx="158.5" cy="195.5" r="1.7" fill="none" stroke="#000" stroke-width="1.3"/>
<circle cx="160.5" cy="196.5" r="1.7" fill="none" stroke="#000" stroke-width="1.3"/>
<circle cx="163.5" cy="197.5" r="1.7" fill="none" stroke="#000" stroke-width="1.3"/>
<circle cx="169.4" cy="202.9" r="1.7" fill="none" stroke="#000" stroke-width="1.3"/>
<circle cx="172.4" cy="203.6" r="1.7" fill="none" stroke="#000" stroke-width="1.3"/>
<circle cx="176.1" cy="206.6" r="1.7" fill="none" stroke="#000" stroke-width="1.3"/>
<circle cx="182" cy="209.5" r="1.7" fill="none" stroke="#000" stroke-width="1.3"/>
<circle cx="186" cy="212.9" r="1.7" fill="none" stroke="#000" stroke-width="1.3"/>
<circle cx="188.9" cy="215.9" r="1.7" fill="none" stroke="#000" stroke-width="1.3"/>
<circle cx="191.9" cy="217.3" r="1.7" fill="none" stroke="#000" stroke-width="1.3"/>
<circle cx="194.8" cy="218.8" r="1.7" fill="none" stroke="#000" stroke-width="1.3"/>
<circle cx="197.8" cy="220.3" r="1.7" fill="none" stroke="#000" stroke-width="1.3"/>
<circle cx="200.7" cy="222.2" r="1.7" fill="none" stroke="#000" stroke-width="1.3"/>
<circle cx="206.6" cy="223.9" r="1.7" fill="none" stroke="#000" stroke-width="1.3"/>
<circle cx="209.5" cy="225.4" r="1.7" fill="none" stroke="#000" stroke-width="1.3"/>
<circle cx="212.5" cy="226.1" r="1.7" fill="none" stroke="#000" stroke-width="1.3"/>
<circle cx="215.4" cy="227.2" r="1.7" fill="none" stroke="#000" stroke-width="1.3"/>
<circle cx="219.1" cy="228.5" r="1.7" fill="none" stroke="#000" stroke-width="1.3"/>
<circle cx="222" cy="229.8" r="1.7" fill="none" stroke="#000" stroke-width="1.3"/>
<circle cx="224.2" cy="231.3" r="1.7" fill="none" stroke="#000" stroke-width="1.3"/>
<circle cx="228" cy="232.4" r="1.7" fill="none" stroke="#000" stroke-width="1.3"/>
<circle cx="232.7" cy="233.9" r="1.7" fill="none" stroke="#000" stroke-width="1.3"/>
<circle cx="236.5" cy="235.5" r="1.7" fill="none" stroke="#000" stroke-width="1.3"/>
<circle cx="240.8" cy="236.5" r="1.7" fill="none" stroke="#000" stroke-width="1.3"/>
<circle cx="245.8" cy="237.5" r="1.7" fill="none" stroke="#000" stroke-width="1.3"/>
<circle cx="261.4" cy="247.6" r="2.6" fill="#f00"/>
<rect x="211.2" y="154.2" width="45" height="49" fill="#fff" stroke="#666" stroke-width="0.85"/>
<polyline points="213,160.3 229.4,160.3" fill="none" stroke="#f00" stroke-width="1.2" stroke-linejoin="round" stroke-linecap="round"/>
<path d="M221.3 168.1V176.5M219.6 168.1H223M219.6 176.5H223" stroke="#f00" stroke-width="1.2" fill="none"/>
<circle cx="221.3" cy="172.3" r="1.7" fill="none" stroke="#f00" stroke-width="1.3"/>
<polyline points="213,184.3 229.4,184.3" fill="none" stroke="#222" stroke-width="1.1" stroke-linejoin="round" stroke-linecap="round"/>
<path d="M221.3 192.1V200.5M219.6 192.1H223M219.6 200.5H223" stroke="#000" stroke-width="1.2" fill="none"/>
<circle cx="221.3" cy="196.3" r="1.7" fill="none" stroke="#000" stroke-width="1.3"/>
<text x="231.3" y="161.4" font-size="7.6" fill="#000" stroke="#000" stroke-width="0.15">T<tspan font-size="5.9" dy="3.5" dx="0.2" stroke-width="0.1">e,fenix</tspan></text>
<text x="231.3" y="173.4" font-size="7.6" fill="#000" stroke="#000" stroke-width="0.15">T<tspan font-size="5.9" dy="3.5" dx="0.2" stroke-width="0.1">e,exp</tspan></text>
<text x="231.3" y="185.4" font-size="7.6" fill="#000" stroke="#000" stroke-width="0.15">T<tspan font-size="5.9" dy="3.5" dx="0.2" stroke-width="0.1">i,fenix</tspan></text>
<text x="231.3" y="197.4" font-size="7.6" fill="#000" stroke="#000" stroke-width="0.15">T<tspan font-size="5.9" dy="3.5" dx="0.2" stroke-width="0.1">i,exp</tspan></text>
<rect x="294.5" y="153.5" width="102" height="96" fill="none" stroke="#666" stroke-width="0.85"/>
<line x1="294.5" y1="249.5" x2="295.7" y2="249.5" stroke="#666" stroke-width="0.85"/>
<line x1="396.5" y1="249.5" x2="395.3" y2="249.5" stroke="#666" stroke-width="0.85"/>
<text x="290.9" y="252.4" font-size="8" text-anchor="end" font-weight="normal" font-style="normal" fill="#000" stroke="#000" stroke-width="0.12">0</text>
<line x1="294.5" y1="233.5" x2="295.7" y2="233.5" stroke="#666" stroke-width="0.85"/>
<line x1="396.5" y1="233.5" x2="395.3" y2="233.5" stroke="#666" stroke-width="0.85"/>
<text x="290.9" y="236.4" font-size="8" text-anchor="end" font-weight="normal" font-style="normal" fill="#000" stroke="#000" stroke-width="0.12">2</text>
<line x1="294.5" y1="217.5" x2="295.7" y2="217.5" stroke="#666" stroke-width="0.85"/>
<line x1="396.5" y1="217.5" x2="395.3" y2="217.5" stroke="#666" stroke-width="0.85"/>
<text x="290.9" y="220.4" font-size="8" text-anchor="end" font-weight="normal" font-style="normal" fill="#000" stroke="#000" stroke-width="0.12">4</text>
<line x1="294.5" y1="201.5" x2="295.7" y2="201.5" stroke="#666" stroke-width="0.85"/>
<line x1="396.5" y1="201.5" x2="395.3" y2="201.5" stroke="#666" stroke-width="0.85"/>
<text x="290.9" y="204.4" font-size="8" text-anchor="end" font-weight="normal" font-style="normal" fill="#000" stroke="#000" stroke-width="0.12">6</text>
<line x1="294.5" y1="185.5" x2="295.7" y2="185.5" stroke="#666" stroke-width="0.85"/>
<line x1="396.5" y1="185.5" x2="395.3" y2="185.5" stroke="#666" stroke-width="0.85"/>
<text x="290.9" y="188.4" font-size="8" text-anchor="end" font-weight="normal" font-style="normal" fill="#000" stroke="#000" stroke-width="0.12">8</text>
<line x1="294.5" y1="169.5" x2="295.7" y2="169.5" stroke="#666" stroke-width="0.85"/>
<line x1="396.5" y1="169.5" x2="395.3" y2="169.5" stroke="#666" stroke-width="0.85"/>
<text x="290.9" y="172.4" font-size="8" text-anchor="end" font-weight="normal" font-style="normal" fill="#000" stroke="#000" stroke-width="0.12">10</text>
<line x1="294.5" y1="153.5" x2="295.7" y2="153.5" stroke="#666" stroke-width="0.85"/>
<line x1="396.5" y1="153.5" x2="395.3" y2="153.5" stroke="#666" stroke-width="0.85"/>
<text x="290.9" y="156.4" font-size="8" text-anchor="end" font-weight="normal" font-style="normal" fill="#000" stroke="#000" stroke-width="0.12">12</text>
<line x1="294.5" y1="249.5" x2="294.5" y2="248.3" stroke="#666" stroke-width="0.85"/>
<line x1="294.5" y1="153.5" x2="294.5" y2="154.7" stroke="#666" stroke-width="0.85"/>
<text x="293.9" y="259.9" font-size="8" text-anchor="middle" font-weight="normal" font-style="normal" fill="#000" stroke="#000" stroke-width="0.12">0</text>
<line x1="345.5" y1="249.5" x2="345.5" y2="248.3" stroke="#666" stroke-width="0.85"/>
<line x1="345.5" y1="153.5" x2="345.5" y2="154.7" stroke="#666" stroke-width="0.85"/>
<text x="344.9" y="259.9" font-size="8" text-anchor="middle" font-weight="normal" font-style="normal" fill="#000" stroke="#000" stroke-width="0.12">0.5</text>
<line x1="396.5" y1="249.5" x2="396.5" y2="248.3" stroke="#666" stroke-width="0.85"/>
<line x1="396.5" y1="153.5" x2="396.5" y2="154.7" stroke="#666" stroke-width="0.85"/>
<text x="395.9" y="259.9" font-size="8" text-anchor="middle" font-weight="normal" font-style="normal" fill="#000" stroke="#000" stroke-width="0.12">1</text>
<text x="345.7" y="270.5" font-size="7.8" text-anchor="middle" font-weight="normal" font-style="italic" fill="#222" font-family="Liberation Serif, serif">&#961;</text>
<polyline points="294.5,183 305,183.2 312,183.4 320,184 326,186.5 332,188.8 340,191.5 350.1,195 360,196.5 387.8,203.5 389.5,207.5 391.5,213 393.5,219.5 395,225.5 396.3,232.4" fill="none" stroke="#00f" stroke-width="1.3" stroke-linejoin="round" stroke-linecap="round"/>
<path d="M294.9 164.3V245M293.2 164.3H296.6M293.2 245H296.6" stroke="#00f" stroke-width="1.2" fill="none"/>
<path d="M296.2 169.7V227.9M294.5 169.7H297.9M294.5 227.9H297.9" stroke="#00f" stroke-width="1.2" fill="none"/>
<path d="M297.9 169.8V227.3M296.2 169.8H299.6M296.2 227.3H299.6" stroke="#00f" stroke-width="1.2" fill="none"/>
<path d="M300.2 169.8V225.6M298.5 169.8H301.9M298.5 225.6H301.9" stroke="#00f" stroke-width="1.2" fill="none"/>
<path d="M302.7 169.8V225.6M301 169.8H304.4M301 225.6H304.4" stroke="#00f" stroke-width="1.2" fill="none"/>
<path d="M304.1 169.8V222.6M302.4 169.8H305.8M302.4 222.6H305.8" stroke="#00f" stroke-width="1.2" fill="none"/>
<path d="M306.2 165.7V178M304.5 165.7H307.9M304.5 178H307.9" stroke="#00f" stroke-width="1.2" fill="none"/>
<path d="M309.9 165.7V178M308.2 165.7H311.6M308.2 178H311.6" stroke="#00f" stroke-width="1.2" fill="none"/>
<path d="M312.1 166.8V179M310.4 166.8H313.8M310.4 179H313.8" stroke="#00f" stroke-width="1.2" fill="none"/>
<path d="M313.5 166.8V179M311.8 166.8H315.2M311.8 179H315.2" stroke="#00f" stroke-width="1.2" fill="none"/>
<path d="M317 174.8V182M315.3 174.8H318.7M315.3 182H318.7" stroke="#00f" stroke-width="1.2" fill="none"/>
<path d="M321.5 176V195.3M319.8 176H323.2M319.8 195.3H323.2" stroke="#00f" stroke-width="1.2" fill="none"/>
<path d="M324.5 178V186M322.8 178H326.2M322.8 186H326.2" stroke="#00f" stroke-width="1.2" fill="none"/>
<path d="M327.5 172.6V187M325.8 172.6H329.2M325.8 187H329.2" stroke="#00f" stroke-width="1.2" fill="none"/>
<path d="M328.5 172.5V188M326.8 172.5H330.2M326.8 188H330.2" stroke="#00f" stroke-width="1.2" fill="none"/>
<path d="M331 176.9V189M329.3 176.9H332.7M329.3 189H332.7" stroke="#00f" stroke-width="1.2" fill="none"/>
<path d="M334 179.9V191M332.3 179.9H335.7M332.3 191H335.7" stroke="#00f" stroke-width="1.2" fill="none"/>
<path d="M336.9 185.7V192.5M335.2 185.7H338.6M335.2 192.5H338.6" stroke="#00f" stroke-width="1.2" fill="none"/>
<path d="M338.4 187.1V196M336.7 187.1H340.1M336.7 196H340.1" stroke="#00f" stroke-width="1.2" fill="none"/>
<path d="M342.1 189V200.5M340.4 189H343.8M340.4 200.5H343.8" stroke="#00f" stroke-width="1.2" fill="none"/>
<path d="M344.2 190V201.2M342.5 190H345.9M342.5 201.2H345.9" stroke="#00f" stroke-width="1.2" fill="none"/>
<path d="M346.6 189V201.2M344.9 189H348.3M344.9 201.2H348.3" stroke="#00f" stroke-width="1.2" fill="none"/>
<path d="M351.6 188.7V196M349.9 188.7H353.3M349.9 196H353.3" stroke="#00f" stroke-width="1.2" fill="none"/>
<path d="M353.6 188.2V195M351.9 188.2H355.3M351.9 195H355.3" stroke="#00f" stroke-width="1.2" fill="none"/>
<path d="M357.2 188.2V195M355.5 188.2H358.9M355.5 195H358.9" stroke="#00f" stroke-width="1.2" fill="none"/>
<path d="M360.7 191V197M359 191H362.4M359 197H362.4" stroke="#00f" stroke-width="1.2" fill="none"/>
<path d="M364.2 190V196M362.5 190H365.9M362.5 196H365.9" stroke="#00f" stroke-width="1.2" fill="none"/>
<path d="M368.9 189.4V196M367.2 189.4H370.6M367.2 196H370.6" stroke="#00f" stroke-width="1.2" fill="none"/>
<path d="M373.2 189.4V196M371.5 189.4H374.9M371.5 196H374.9" stroke="#00f" stroke-width="1.2" fill="none"/>
<path d="M378.4 191.5V197.5M376.7 191.5H380.1M376.7 197.5H380.1" stroke="#00f" stroke-width="1.2" fill="none"/>
<path d="M384.2 191.8V198.8M382.5 191.8H385.9M382.5 198.8H385.9" stroke="#00f" stroke-width="1.2" fill="none"/>
<path d="M390.1 200V205.9M388.4 200H391.8M388.4 205.9H391.8" stroke="#00f" stroke-width="1.2" fill="none"/>
<circle cx="294.9" cy="173.8" r="1.7" fill="none" stroke="#00f" stroke-width="1.3"/>
<circle cx="296.2" cy="174.3" r="1.7" fill="none" stroke="#00f" stroke-width="1.3"/>
<circle cx="297.9" cy="174.3" r="1.7" fill="none" stroke="#00f" stroke-width="1.3"/>
<circle cx="300.2" cy="174.5" r="1.7" fill="none" stroke="#00f" stroke-width="1.3"/>
<circle cx="302.7" cy="174.5" r="1.7" fill="none" stroke="#00f" stroke-width="1.3"/>
<circle cx="304.1" cy="174.8" r="1.7" fill="none" stroke="#00f" stroke-width="1.3"/>
<circle cx="306.2" cy="174.8" r="1.7" fill="none" stroke="#00f" stroke-width="1.3"/>
<circle cx="309.9" cy="175.3" r="1.7" fill="none" stroke="#00f" stroke-width="1.3"/>
<circle cx="312.1" cy="176.3" r="1.7" fill="none" stroke="#00f" stroke-width="1.3"/>
<circle cx="313.5" cy="176.8" r="1.7" fill="none" stroke="#00f" stroke-width="1.3"/>
<circle cx="317" cy="179.3" r="1.7" fill="none" stroke="#00f" stroke-width="1.3"/>
<circle cx="321.5" cy="180.5" r="1.7" fill="none" stroke="#00f" stroke-width="1.3"/>
<circle cx="324.5" cy="182" r="1.7" fill="none" stroke="#00f" stroke-width="1.3"/>
<circle cx="327.5" cy="183.5" r="1.7" fill="none" stroke="#00f" stroke-width="1.3"/>
<circle cx="328.5" cy="184" r="1.7" fill="none" stroke="#00f" stroke-width="1.3"/>
<circle cx="331" cy="185.5" r="1.7" fill="none" stroke="#00f" stroke-width="1.3"/>
<circle cx="334" cy="187" r="1.7" fill="none" stroke="#00f" stroke-width="1.3"/>
<circle cx="336.9" cy="189" r="1.7" fill="none" stroke="#00f" stroke-width="1.3"/>
<circle cx="338.4" cy="191.8" r="1.7" fill="none" stroke="#00f" stroke-width="1.3"/>
<circle cx="342.1" cy="193" r="1.7" fill="none" stroke="#00f" stroke-width="1.3"/>
<circle cx="344.2" cy="196.5" r="1.7" fill="none" stroke="#00f" stroke-width="1.3"/>
<circle cx="346.6" cy="192.5" r="1.7" fill="none" stroke="#00f" stroke-width="1.3"/>
<circle cx="351.6" cy="192.5" r="1.7" fill="none" stroke="#00f" stroke-width="1.3"/>
<circle cx="353.6" cy="191.8" r="1.7" fill="none" stroke="#00f" stroke-width="1.3"/>
<circle cx="357.2" cy="191.8" r="1.7" fill="none" stroke="#00f" stroke-width="1.3"/>
<circle cx="360.7" cy="194.1" r="1.7" fill="none" stroke="#00f" stroke-width="1.3"/>
<circle cx="364.2" cy="192.9" r="1.7" fill="none" stroke="#00f" stroke-width="1.3"/>
<circle cx="368.9" cy="192.9" r="1.7" fill="none" stroke="#00f" stroke-width="1.3"/>
<circle cx="373.2" cy="192.9" r="1.7" fill="none" stroke="#00f" stroke-width="1.3"/>
<circle cx="378.4" cy="194.6" r="1.7" fill="none" stroke="#00f" stroke-width="1.3"/>
<circle cx="384.2" cy="196" r="1.7" fill="none" stroke="#00f" stroke-width="1.3"/>
<circle cx="390.1" cy="203.5" r="1.7" fill="none" stroke="#00f" stroke-width="1.3"/>
<circle cx="295.5" cy="174" r="1.7" fill="none" stroke="#00f" stroke-width="1.3"/>
<circle cx="297.11" cy="174.07" r="1.7" fill="none" stroke="#00f" stroke-width="1.3"/>
<circle cx="298.72" cy="174.13" r="1.7" fill="none" stroke="#00f" stroke-width="1.3"/>
<circle cx="300.33" cy="174.2" r="1.7" fill="none" stroke="#00f" stroke-width="1.3"/>
<circle cx="301.94" cy="174.27" r="1.7" fill="none" stroke="#00f" stroke-width="1.3"/>
<circle cx="303.56" cy="174.33" r="1.7" fill="none" stroke="#00f" stroke-width="1.3"/>
<circle cx="305.17" cy="174.4" r="1.7" fill="none" stroke="#00f" stroke-width="1.3"/>
<circle cx="306.78" cy="174.47" r="1.7" fill="none" stroke="#00f" stroke-width="1.3"/>
<circle cx="308.39" cy="174.53" r="1.7" fill="none" stroke="#00f" stroke-width="1.3"/>
<circle cx="310" cy="174.6" r="1.7" fill="none" stroke="#00f" stroke-width="1.3"/>
<circle cx="396.1" cy="232.8" r="2.4" fill="#00f"/>
<rect x="343.3" y="158.6" width="48.1" height="24.8" fill="#fff" stroke="#666" stroke-width="0.85"/>
<polyline points="344.9,165.4 360.9,165.4" fill="none" stroke="#00f" stroke-width="1.4" stroke-linejoin="round" stroke-linecap="round"/>
<path d="M352.9 172.2V181.2M351.2 172.2H354.6M351.2 181.2H354.6" stroke="#00f" stroke-width="1.2" fill="none"/>
<circle cx="352.9" cy="176.6" r="1.7" fill="none" stroke="#00f" stroke-width="1.3"/>
<text x="362.6" y="166.6" font-size="7.2" fill="#000" stroke="#000" stroke-width="0.1">n<tspan font-size="5.8" dy="2.9" dx="0.2">e</tspan></text>
<text x="371.5" y="166.6" font-size="7.2" fill="#000" stroke="#000" stroke-width="0.1" textLength="14.6" lengthAdjust="spacingAndGlyphs">fenix</text>
<text x="362.6" y="177.8" font-size="7.2" fill="#000" stroke="#000" stroke-width="0.1">n<tspan font-size="5.8" dy="2.9" dx="0.2">e</tspan></text>
<text x="371.5" y="177.8" font-size="7.2" fill="#000" stroke="#000" stroke-width="0.1" textLength="11.3" lengthAdjust="spacingAndGlyphs">exp</text>
<rect x="428.5" y="153.5" width="102.5" height="96" fill="none" stroke="#666" stroke-width="0.85"/>
<line x1="428.5" y1="249.5" x2="429.7" y2="249.5" stroke="#666" stroke-width="0.85"/>
<line x1="531" y1="249.5" x2="529.8" y2="249.5" stroke="#666" stroke-width="0.85"/>
<text x="424.9" y="252.4" font-size="8" text-anchor="end" font-weight="normal" font-style="normal" fill="#000" stroke="#000" stroke-width="0.12">0</text>
<line x1="428.5" y1="233.5" x2="429.7" y2="233.5" stroke="#666" stroke-width="0.85"/>
<line x1="531" y1="233.5" x2="529.8" y2="233.5" stroke="#666" stroke-width="0.85"/>
<text x="424.9" y="236.4" font-size="8" text-anchor="end" font-weight="normal" font-style="normal" fill="#000" stroke="#000" stroke-width="0.12">2</text>
<line x1="428.5" y1="217.5" x2="429.7" y2="217.5" stroke="#666" stroke-width="0.85"/>
<line x1="531" y1="217.5" x2="529.8" y2="217.5" stroke="#666" stroke-width="0.85"/>
<text x="424.9" y="220.4" font-size="8" text-anchor="end" font-weight="normal" font-style="normal" fill="#000" stroke="#000" stroke-width="0.12">4</text>
<line x1="428.5" y1="201.5" x2="429.7" y2="201.5" stroke="#666" stroke-width="0.85"/>
<line x1="531" y1="201.5" x2="529.8" y2="201.5" stroke="#666" stroke-width="0.85"/>
<text x="424.9" y="204.4" font-size="8" text-anchor="end" font-weight="normal" font-style="normal" fill="#000" stroke="#000" stroke-width="0.12">6</text>
<line x1="428.5" y1="185.5" x2="429.7" y2="185.5" stroke="#666" stroke-width="0.85"/>
<line x1="531" y1="185.5" x2="529.8" y2="185.5" stroke="#666" stroke-width="0.85"/>
<text x="424.9" y="188.4" font-size="8" text-anchor="end" font-weight="normal" font-style="normal" fill="#000" stroke="#000" stroke-width="0.12">8</text>
<line x1="428.5" y1="169.5" x2="429.7" y2="169.5" stroke="#666" stroke-width="0.85"/>
<line x1="531" y1="169.5" x2="529.8" y2="169.5" stroke="#666" stroke-width="0.85"/>
<text x="424.9" y="172.4" font-size="8" text-anchor="end" font-weight="normal" font-style="normal" fill="#000" stroke="#000" stroke-width="0.12">10</text>
<line x1="428.5" y1="153.5" x2="429.7" y2="153.5" stroke="#666" stroke-width="0.85"/>
<line x1="531" y1="153.5" x2="529.8" y2="153.5" stroke="#666" stroke-width="0.85"/>
<text x="424.9" y="156.4" font-size="8" text-anchor="end" font-weight="normal" font-style="normal" fill="#000" stroke="#000" stroke-width="0.12">12</text>
<line x1="428.5" y1="249.5" x2="428.5" y2="248.3" stroke="#666" stroke-width="0.85"/>
<line x1="428.5" y1="153.5" x2="428.5" y2="154.7" stroke="#666" stroke-width="0.85"/>
<text x="427.9" y="259.9" font-size="8" text-anchor="middle" font-weight="normal" font-style="normal" fill="#000" stroke="#000" stroke-width="0.12">0</text>
<line x1="479.75" y1="249.5" x2="479.75" y2="248.3" stroke="#666" stroke-width="0.85"/>
<line x1="479.75" y1="153.5" x2="479.75" y2="154.7" stroke="#666" stroke-width="0.85"/>
<text x="479.15" y="259.9" font-size="8" text-anchor="middle" font-weight="normal" font-style="normal" fill="#000" stroke="#000" stroke-width="0.12">0.5</text>
<line x1="531" y1="249.5" x2="531" y2="248.3" stroke="#666" stroke-width="0.85"/>
<line x1="531" y1="153.5" x2="531" y2="154.7" stroke="#666" stroke-width="0.85"/>
<text x="530.4" y="259.9" font-size="8" text-anchor="middle" font-weight="normal" font-style="normal" fill="#000" stroke="#000" stroke-width="0.12">1</text>
<text x="479.95" y="270.5" font-size="7.8" text-anchor="middle" font-weight="normal" font-style="italic" fill="#222" font-family="Liberation Serif, serif">&#961;</text>
<polyline points="428.5,179.5 440,179.7 450,180 456,181 464,184 470,187.5 476,189.6 481.6,192 496,196 519.8,202.7 522,205 524.4,210.1 527.5,220 530.7,233.7" fill="none" stroke="#00f" stroke-width="1.3" stroke-linejoin="round" stroke-linecap="round"/>
<path d="M428.8 166V243.4M427.1 166H430.5M427.1 243.4H430.5" stroke="#00f" stroke-width="1.2" fill="none"/>
<path d="M430.7 169.8V223.2M429 169.8H432.4M429 223.2H432.4" stroke="#00f" stroke-width="1.2" fill="none"/>
<path d="M432.6 169.8V222.8M430.9 169.8H434.3M430.9 222.8H434.3" stroke="#00f" stroke-width="1.2" fill="none"/>
<path d="M435.1 169.8V221.8M433.4 169.8H436.8M433.4 221.8H436.8" stroke="#00f" stroke-width="1.2" fill="none"/>
<path d="M437.4 169.8V221.8M435.7 169.8H439.1M435.7 221.8H439.1" stroke="#00f" stroke-width="1.2" fill="none"/>
<path d="M440.2 163.1V178M438.5 163.1H441.9M438.5 178H441.9" stroke="#00f" stroke-width="1.2" fill="none"/>
<path d="M441.9 164.3V178M440.2 164.3H443.6M440.2 178H443.6" stroke="#00f" stroke-width="1.2" fill="none"/>
<path d="M445.3 161.3V178M443.6 161.3H447M443.6 178H447" stroke="#00f" stroke-width="1.2" fill="none"/>
<path d="M447.5 163.4V179M445.8 163.4H449.2M445.8 179H449.2" stroke="#00f" stroke-width="1.2" fill="none"/>
<path d="M450.5 172.8V180M448.8 172.8H452.2M448.8 180H452.2" stroke="#00f" stroke-width="1.2" fill="none"/>
<path d="M454 174V182M452.3 174H455.7M452.3 182H455.7" stroke="#00f" stroke-width="1.2" fill="none"/>
<path d="M457.5 176V190.9M455.8 176H459.2M455.8 190.9H459.2" stroke="#00f" stroke-width="1.2" fill="none"/>
<path d="M460 177V186M458.3 177H461.7M458.3 186H461.7" stroke="#00f" stroke-width="1.2" fill="none"/>
<path d="M462.6 169.6V186M460.9 169.6H464.3M460.9 186H464.3" stroke="#00f" stroke-width="1.2" fill="none"/>
<path d="M465.6 174.7V187.5M463.9 174.7H467.3M463.9 187.5H467.3" stroke="#00f" stroke-width="1.2" fill="none"/>
<path d="M467.8 179.9V189M466.1 179.9H469.5M466.1 189H469.5" stroke="#00f" stroke-width="1.2" fill="none"/>
<path d="M470.7 182.1V190M469 182.1H472.4M469 190H472.4" stroke="#00f" stroke-width="1.2" fill="none"/>
<path d="M473.4 184V193.1M471.7 184H475.1M471.7 193.1H475.1" stroke="#00f" stroke-width="1.2" fill="none"/>
<path d="M476.6 187.2V196.8M474.9 187.2H478.3M474.9 196.8H478.3" stroke="#00f" stroke-width="1.2" fill="none"/>
<path d="M479.5 188V198.2M477.8 188H481.2M477.8 198.2H481.2" stroke="#00f" stroke-width="1.2" fill="none"/>
<path d="M481.7 188V198.2M480 188H483.4M480 198.2H483.4" stroke="#00f" stroke-width="1.2" fill="none"/>
<path d="M486.1 186.9V196M484.4 186.9H487.8M484.4 196H487.8" stroke="#00f" stroke-width="1.2" fill="none"/>
<path d="M489.1 186.9V194M487.4 186.9H490.8M487.4 194H490.8" stroke="#00f" stroke-width="1.2" fill="none"/>
<path d="M492 187.2V195M490.3 187.2H493.7M490.3 195H493.7" stroke="#00f" stroke-width="1.2" fill="none"/>
<path d="M494.3 190V195.5M492.6 190H496M492.6 195.5H496" stroke="#00f" stroke-width="1.2" fill="none"/>
<path d="M497.8 191V196.5M496.1 191H499.5M496.1 196.5H499.5" stroke="#00f" stroke-width="1.2" fill="none"/>
<path d="M502.4 189.3V195M500.7 189.3H504.1M500.7 195H504.1" stroke="#00f" stroke-width="1.2" fill="none"/>
<path d="M507 190V195.5M505.3 190H508.7M505.3 195.5H508.7" stroke="#00f" stroke-width="1.2" fill="none"/>
<path d="M512.8 193V198.5M511.1 193H514.5M511.1 198.5H514.5" stroke="#00f" stroke-width="1.2" fill="none"/>
<path d="M518.1 194V199.5M516.4 194H519.8M516.4 199.5H519.8" stroke="#00f" stroke-width="1.2" fill="none"/>
<path d="M524.4 202V208.9M522.7 202H526.1M522.7 208.9H526.1" stroke="#00f" stroke-width="1.2" fill="none"/>
<circle cx="428.8" cy="174.8" r="1.7" fill="none" stroke="#00f" stroke-width="1.3"/>
<circle cx="430.7" cy="174.8" r="1.7" fill="none" stroke="#00f" stroke-width="1.3"/>
<circle cx="432.6" cy="174.8" r="1.7" fill="none" stroke="#00f" stroke-width="1.3"/>
<circle cx="435.1" cy="174.8" r="1.7" fill="none" stroke="#00f" stroke-width="1.3"/>
<circle cx="437.4" cy="174.8" r="1.7" fill="none" stroke="#00f" stroke-width="1.3"/>
<circle cx="440.2" cy="175.3" r="1.7" fill="none" stroke="#00f" stroke-width="1.3"/>
<circle cx="441.9" cy="175.3" r="1.7" fill="none" stroke="#00f" stroke-width="1.3"/>
<circle cx="445.3" cy="175.8" r="1.7" fill="none" stroke="#00f" stroke-width="1.3"/>
<circle cx="447.5" cy="176.3" r="1.7" fill="none" stroke="#00f" stroke-width="1.3"/>
<circle cx="450.5" cy="177.3" r="1.7" fill="none" stroke="#00f" stroke-width="1.3"/>
<circle cx="454" cy="178" r="1.7" fill="none" stroke="#00f" stroke-width="1.3"/>
<circle cx="457.5" cy="180" r="1.7" fill="none" stroke="#00f" stroke-width="1.3"/>
<circle cx="460" cy="181.5" r="1.7" fill="none" stroke="#00f" stroke-width="1.3"/>
<circle cx="462.6" cy="182" r="1.7" fill="none" stroke="#00f" stroke-width="1.3"/>
<circle cx="465.6" cy="183.5" r="1.7" fill="none" stroke="#00f" stroke-width="1.3"/>
<circle cx="467.8" cy="184.5" r="1.7" fill="none" stroke="#00f" stroke-width="1.3"/>
<circle cx="470.7" cy="186" r="1.7" fill="none" stroke="#00f" stroke-width="1.3"/>
<circle cx="473.4" cy="188" r="1.7" fill="none" stroke="#00f" stroke-width="1.3"/>
<circle cx="476.6" cy="190" r="1.7" fill="none" stroke="#00f" stroke-width="1.3"/>
<circle cx="479.5" cy="192" r="1.7" fill="none" stroke="#00f" stroke-width="1.3"/>
<circle cx="481.7" cy="192.5" r="1.7" fill="none" stroke="#00f" stroke-width="1.3"/>
<circle cx="486.1" cy="190.4" r="1.7" fill="none" stroke="#00f" stroke-width="1.3"/>
<circle cx="489.1" cy="190.4" r="1.7" fill="none" stroke="#00f" stroke-width="1.3"/>
<circle cx="492" cy="191" r="1.7" fill="none" stroke="#00f" stroke-width="1.3"/>
<circle cx="494.3" cy="192.7" r="1.7" fill="none" stroke="#00f" stroke-width="1.3"/>
<circle cx="497.8" cy="193.9" r="1.7" fill="none" stroke="#00f" stroke-width="1.3"/>
<circle cx="502.4" cy="192" r="1.7" fill="none" stroke="#00f" stroke-width="1.3"/>
<circle cx="507" cy="192.7" r="1.7" fill="none" stroke="#00f" stroke-width="1.3"/>
<circle cx="512.8" cy="195.7" r="1.7" fill="none" stroke="#00f" stroke-width="1.3"/>
<circle cx="518.1" cy="196.7" r="1.7" fill="none" stroke="#00f" stroke-width="1.3"/>
<circle cx="524.4" cy="205.9" r="1.7" fill="none" stroke="#00f" stroke-width="1.3"/>
<circle cx="429.5" cy="173.4" r="1.7" fill="none" stroke="#00f" stroke-width="1.3"/>
<circle cx="431.18" cy="173.45" r="1.7" fill="none" stroke="#00f" stroke-width="1.3"/>
<circle cx="432.86" cy="173.51" r="1.7" fill="none" stroke="#00f" stroke-width="1.3"/>
<circle cx="434.55" cy="173.56" r="1.7" fill="none" stroke="#00f" stroke-width="1.3"/>
<circle cx="436.23" cy="173.62" r="1.7" fill="none" stroke="#00f" stroke-width="1.3"/>
<circle cx="437.91" cy="173.67" r="1.7" fill="none" stroke="#00f" stroke-width="1.3"/>
<circle cx="439.59" cy="173.73" r="1.7" fill="none" stroke="#00f" stroke-width="1.3"/>
<circle cx="441.27" cy="173.78" r="1.7" fill="none" stroke="#00f" stroke-width="1.3"/>
<circle cx="442.95" cy="173.84" r="1.7" fill="none" stroke="#00f" stroke-width="1.3"/>
<circle cx="444.64" cy="173.89" r="1.7" fill="none" stroke="#00f" stroke-width="1.3"/>
<circle cx="446.32" cy="173.95" r="1.7" fill="none" stroke="#00f" stroke-width="1.3"/>
<circle cx="448" cy="174" r="1.7" fill="none" stroke="#00f" stroke-width="1.3"/>
<circle cx="530.7" cy="233.7" r="2.4" fill="#00f"/>
<rect x="478.3" y="158.4" width="47.6" height="25.1" fill="#fff" stroke="#666" stroke-width="0.85"/>
<polyline points="479.9,165.2 495.9,165.2" fill="none" stroke="#00f" stroke-width="1.4" stroke-linejoin="round" stroke-linecap="round"/>
<path d="M487.9 172V181M486.2 172H489.6M486.2 181H489.6" stroke="#00f" stroke-width="1.2" fill="none"/>
<circle cx="487.9" cy="176.4" r="1.7" fill="none" stroke="#00f" stroke-width="1.3"/>
<text x="497.6" y="166.4" font-size="7.2" fill="#000" stroke="#000" stroke-width="0.1">n<tspan font-size="5.8" dy="2.9" dx="0.2">e</tspan></text>
<text x="506.5" y="166.4" font-size="7.2" fill="#000" stroke="#000" stroke-width="0.1" textLength="14.6" lengthAdjust="spacingAndGlyphs">fenix</text>
<text x="497.6" y="177.6" font-size="7.2" fill="#000" stroke="#000" stroke-width="0.1">n<tspan font-size="5.8" dy="2.9" dx="0.2">e</tspan></text>
<text x="506.5" y="177.6" font-size="7.2" fill="#000" stroke="#000" stroke-width="0.1" textLength="11.3" lengthAdjust="spacingAndGlyphs">exp</text>
<text x="21.8" y="6.7" font-size="8.8" font-weight="bold" textLength="18.05" lengthAdjust="spacingAndGlyphs">2.5 -</text>
<text x="47.95" y="6.7" font-size="8.8" font-weight="bold" textLength="26.1" lengthAdjust="spacingAndGlyphs">3 sec ,</text>
<text x="83.75" y="6.7" font-size="8.8" font-weight="bold" textLength="29.4" lengthAdjust="spacingAndGlyphs">Hmode</text>
<text x="160.15" y="6.7" font-size="8.8" font-weight="bold" textLength="17.4" lengthAdjust="spacingAndGlyphs">3.5 -</text>
<text x="186.45" y="6.7" font-size="8.8" font-weight="bold" textLength="27.2" lengthAdjust="spacingAndGlyphs">4 sec ,</text>
<text x="222.05" y="6.7" font-size="8.8" font-weight="bold" textLength="29.5" lengthAdjust="spacingAndGlyphs">Hmode</text>
<text x="298.65" y="16.5" font-size="8.8" font-weight="bold" textLength="17.1" lengthAdjust="spacingAndGlyphs">2.5 -</text>
<text x="323.05" y="16.5" font-size="8.8" font-weight="bold" textLength="26.8" lengthAdjust="spacingAndGlyphs">3 sec ,</text>
<text x="357.95" y="16.5" font-size="8.8" font-weight="bold" textLength="29.4" lengthAdjust="spacingAndGlyphs">Hmode</text>
<text x="432.65" y="16.5" font-size="8.8" font-weight="bold" textLength="17.1" lengthAdjust="spacingAndGlyphs">3.5 -</text>
<text x="457.05" y="16.5" font-size="8.8" font-weight="bold" textLength="26.8" lengthAdjust="spacingAndGlyphs">4 sec ,</text>
<text x="491.95" y="16.5" font-size="8.8" font-weight="bold" textLength="29.4" lengthAdjust="spacingAndGlyphs">Hmode</text>
<text x="8.65" y="145.6" font-size="8.8" font-weight="bold" textLength="15.9" lengthAdjust="spacingAndGlyphs">4.5 -</text>
<text x="32.05" y="145.6" font-size="8.8" font-weight="bold" textLength="27.4" lengthAdjust="spacingAndGlyphs">5 sec ,</text>
<text x="68.25" y="145.6" font-size="8.8" font-weight="bold" textLength="54.8" lengthAdjust="spacingAndGlyphs">mixed modes</text>
<text x="160.15" y="145.8" font-size="8.8" font-weight="bold" textLength="17.4" lengthAdjust="spacingAndGlyphs">5.5 -</text>
<text x="186.05" y="145.8" font-size="8.8" font-weight="bold" textLength="26.6" lengthAdjust="spacingAndGlyphs">6 sec ,</text>
<text x="221.75" y="145.8" font-size="8.8" font-weight="bold" textLength="29.8" lengthAdjust="spacingAndGlyphs">Hmode</text>
<text x="284.05" y="149.6" font-size="8.8" font-weight="bold" textLength="16.7" lengthAdjust="spacingAndGlyphs">4.5 -</text>
<text x="308.35" y="149.6" font-size="8.8" font-weight="bold" textLength="27.3" lengthAdjust="spacingAndGlyphs">5 sec ,</text>
<text x="343.15" y="149.6" font-size="8.8" font-weight="bold" textLength="53" lengthAdjust="spacingAndGlyphs">mixed modes</text>
<text x="432.65" y="150.3" font-size="8.8" font-weight="bold" textLength="17.1" lengthAdjust="spacingAndGlyphs">5.5 -</text>
<text x="457.05" y="150.3" font-size="8.8" font-weight="bold" textLength="26.8" lengthAdjust="spacingAndGlyphs">6 sec ,</text>
<text x="491.95" y="150.3" font-size="8.8" font-weight="bold" textLength="29.4" lengthAdjust="spacingAndGlyphs">Hmode</text>
<text x="7" y="62" font-size="8.7" text-anchor="middle" fill="#222" transform="rotate(-90 7 62)">T (keV)</text>
<text x="145" y="62" font-size="8.7" text-anchor="middle" fill="#222" transform="rotate(-90 145 62)">T (keV)</text>
<text x="7" y="200.5" font-size="8.7" text-anchor="middle" fill="#222" transform="rotate(-90 7 200.5)">T (keV)</text>
<text x="145" y="200.5" font-size="8.7" text-anchor="middle" fill="#222" transform="rotate(-90 145 200.5)">T (keV)</text>
<g transform="translate(278.3 96.3) rotate(-90)" fill="#111" stroke="#111" stroke-width="0.08">
<text x="0" y="0" font-size="8.6">n *10</text>
<text x="24.5" y="-5" font-size="6.3">19</text>
<text x="35" y="0" font-size="8.6">(m</text>
<text x="47" y="-4.9" font-size="6.3">-3</text>
<text x="54" y="0" font-size="8.6">)</text>
</g>
<g transform="translate(412.6 96.3) rotate(-90)" fill="#111" stroke="#111" stroke-width="0.08">
<text x="0" y="0" font-size="8.6">n *10</text>
<text x="24.5" y="-5" font-size="6.3">19</text>
<text x="35" y="0" font-size="8.6">(m</text>
<text x="47" y="-4.9" font-size="6.3">-3</text>
<text x="54" y="0" font-size="8.6">)</text>
</g>
<g transform="translate(278.3 230.3) rotate(-90)" fill="#111" stroke="#111" stroke-width="0.08">
<text x="0" y="0" font-size="8.6">n *10</text>
<text x="24.5" y="-5" font-size="6.3">18</text>
<text x="35" y="0" font-size="8.6">(m</text>
<text x="47" y="-4.9" font-size="6.3">-3</text>
<text x="54" y="0" font-size="8.6">)</text>
</g>
<g transform="translate(412.6 230.3) rotate(-90)" fill="#111" stroke="#111" stroke-width="0.08">
<text x="0" y="0" font-size="8.6">n *10</text>
<text x="24.5" y="-5" font-size="6.3">18</text>
<text x="35" y="0" font-size="8.6">(m</text>
<text x="47" y="-4.9" font-size="6.3">-3</text>
<text x="54" y="0" font-size="8.6">)</text>
</g>
</svg>
</body></html>
